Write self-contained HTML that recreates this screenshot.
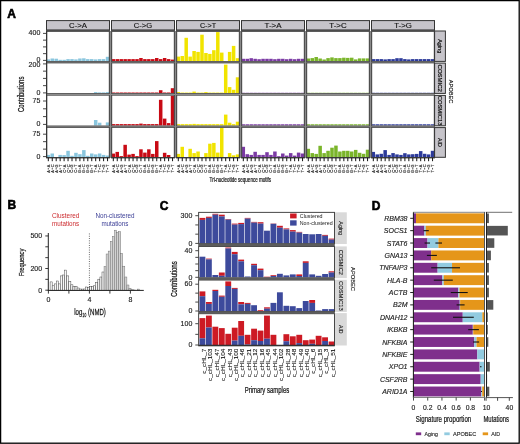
<!DOCTYPE html>
<html><head><meta charset="utf-8"><style>
html,body{margin:0;padding:0;background:#fff;}
svg{display:block;will-change:transform;}
text{font-family:"Liberation Sans", sans-serif;}
</style></head><body>
<svg width="520" height="444" viewBox="0 0 520 444">
<rect x="0" y="0" width="520" height="444" fill="#fff"/>
<text x="0" y="0" transform="translate(7.30 17.80)" font-size="12" fill="#000" text-anchor="start" font-weight="bold" font-style="normal" stroke="#000" stroke-width="0.6">A</text>
<rect x="46.50" y="20.60" width="63.00" height="9.60" fill="#c6c4ca" stroke="#333" stroke-width="1.0"/>
<rect x="46.00" y="29.60" width="64.00" height="2.20" fill="#3c3c3c" />
<text x="0" y="0" transform="translate(78.00 27.90) scale(1.2196 1)" font-size="6.4" fill="#111" text-anchor="middle" font-weight="normal" font-style="normal" stroke="#111" stroke-width="0.12">C-&gt;A</text>
<rect x="111.50" y="20.60" width="63.00" height="9.60" fill="#c6c4ca" stroke="#333" stroke-width="1.0"/>
<rect x="111.00" y="29.60" width="64.00" height="2.20" fill="#3c3c3c" />
<text x="0" y="0" transform="translate(143.00 27.90) scale(1.1895 1)" font-size="6.4" fill="#111" text-anchor="middle" font-weight="normal" font-style="normal" stroke="#111" stroke-width="0.12">C-&gt;G</text>
<rect x="176.50" y="20.60" width="63.00" height="9.60" fill="#c6c4ca" stroke="#333" stroke-width="1.0"/>
<rect x="176.00" y="29.60" width="64.00" height="2.20" fill="#3c3c3c" />
<text x="0" y="0" transform="translate(208.00 27.90) scale(1.1250 1)" font-size="6.4" fill="#111" text-anchor="middle" font-weight="normal" font-style="normal" stroke="#111" stroke-width="0.12">C-&gt;T</text>
<rect x="241.50" y="20.60" width="63.00" height="9.60" fill="#c6c4ca" stroke="#333" stroke-width="1.0"/>
<rect x="241.00" y="29.60" width="64.00" height="2.20" fill="#3c3c3c" />
<text x="0" y="0" transform="translate(273.00 27.90) scale(1.2414 1)" font-size="6.4" fill="#111" text-anchor="middle" font-weight="normal" font-style="normal" stroke="#111" stroke-width="0.12">T-&gt;A</text>
<rect x="306.50" y="20.60" width="63.00" height="9.60" fill="#c6c4ca" stroke="#333" stroke-width="1.0"/>
<rect x="306.00" y="29.60" width="64.00" height="2.20" fill="#3c3c3c" />
<text x="0" y="0" transform="translate(338.00 27.90) scale(1.2387 1)" font-size="6.4" fill="#111" text-anchor="middle" font-weight="normal" font-style="normal" stroke="#111" stroke-width="0.12">T-&gt;C</text>
<rect x="371.50" y="20.60" width="63.00" height="9.60" fill="#c6c4ca" stroke="#333" stroke-width="1.0"/>
<rect x="371.00" y="29.60" width="64.00" height="2.20" fill="#3c3c3c" />
<text x="0" y="0" transform="translate(403.00 27.90) scale(1.2220 1)" font-size="6.4" fill="#111" text-anchor="middle" font-weight="normal" font-style="normal" stroke="#111" stroke-width="0.12">T-&gt;G</text>
<rect x="110.00" y="31.00" width="1.00" height="127.00" fill="#8a8a8a" />
<rect x="175.00" y="31.00" width="1.00" height="127.00" fill="#8a8a8a" />
<rect x="240.00" y="31.00" width="1.00" height="127.00" fill="#8a8a8a" />
<rect x="305.00" y="31.00" width="1.00" height="127.00" fill="#8a8a8a" />
<rect x="370.00" y="31.00" width="1.00" height="127.00" fill="#8a8a8a" />
<rect x="46.55" y="59.40" width="3.50" height="1.70" fill="#8ac6de" />
<rect x="50.50" y="58.50" width="3.50" height="2.60" fill="#8ac6de" />
<rect x="54.45" y="58.70" width="3.50" height="2.40" fill="#8ac6de" />
<rect x="58.40" y="59.80" width="3.50" height="1.30" fill="#8ac6de" />
<rect x="62.35" y="59.80" width="3.50" height="1.30" fill="#8ac6de" />
<rect x="66.30" y="59.10" width="3.50" height="2.00" fill="#8ac6de" />
<rect x="70.25" y="59.10" width="3.50" height="2.00" fill="#8ac6de" />
<rect x="74.20" y="59.40" width="3.50" height="1.70" fill="#8ac6de" />
<rect x="78.15" y="58.50" width="3.50" height="2.60" fill="#8ac6de" />
<rect x="82.10" y="58.30" width="3.50" height="2.80" fill="#8ac6de" />
<rect x="86.05" y="59.10" width="3.50" height="2.00" fill="#8ac6de" />
<rect x="90.00" y="59.10" width="3.50" height="2.00" fill="#8ac6de" />
<rect x="93.95" y="59.40" width="3.50" height="1.70" fill="#8ac6de" />
<rect x="97.90" y="59.10" width="3.50" height="2.00" fill="#8ac6de" />
<rect x="101.85" y="59.10" width="3.50" height="2.00" fill="#8ac6de" />
<rect x="105.80" y="56.80" width="3.50" height="4.30" fill="#8ac6de" />
<rect x="111.55" y="59.10" width="3.50" height="2.00" fill="#c80a14" />
<rect x="115.50" y="59.10" width="3.50" height="2.00" fill="#c80a14" />
<rect x="119.45" y="59.10" width="3.50" height="2.00" fill="#c80a14" />
<rect x="123.40" y="59.10" width="3.50" height="2.00" fill="#c80a14" />
<rect x="127.35" y="59.10" width="3.50" height="2.00" fill="#c80a14" />
<rect x="131.30" y="59.10" width="3.50" height="2.00" fill="#c80a14" />
<rect x="135.25" y="59.10" width="3.50" height="2.00" fill="#c80a14" />
<rect x="139.20" y="58.00" width="3.50" height="3.10" fill="#c80a14" />
<rect x="143.15" y="59.10" width="3.50" height="2.00" fill="#c80a14" />
<rect x="147.10" y="59.10" width="3.50" height="2.00" fill="#c80a14" />
<rect x="151.05" y="59.10" width="3.50" height="2.00" fill="#c80a14" />
<rect x="155.00" y="58.00" width="3.50" height="3.10" fill="#c80a14" />
<rect x="158.95" y="59.10" width="3.50" height="2.00" fill="#c80a14" />
<rect x="162.90" y="58.00" width="3.50" height="3.10" fill="#c80a14" />
<rect x="166.85" y="59.10" width="3.50" height="2.00" fill="#c80a14" />
<rect x="170.80" y="59.60" width="3.50" height="1.50" fill="#c80a14" />
<rect x="176.55" y="56.60" width="3.50" height="4.50" fill="#f1e400" />
<rect x="180.50" y="56.00" width="3.50" height="5.10" fill="#f1e400" />
<rect x="184.45" y="37.80" width="3.50" height="23.30" fill="#f1e400" />
<rect x="188.40" y="56.60" width="3.50" height="4.50" fill="#f1e400" />
<rect x="192.35" y="51.00" width="3.50" height="10.10" fill="#f1e400" />
<rect x="196.30" y="51.90" width="3.50" height="9.20" fill="#f1e400" />
<rect x="200.25" y="34.70" width="3.50" height="26.40" fill="#f1e400" />
<rect x="204.20" y="53.00" width="3.50" height="8.10" fill="#f1e400" />
<rect x="208.15" y="53.90" width="3.50" height="7.20" fill="#f1e400" />
<rect x="212.10" y="50.20" width="3.50" height="10.90" fill="#f1e400" />
<rect x="216.05" y="32.10" width="3.50" height="29.00" fill="#f1e400" />
<rect x="220.00" y="52.60" width="3.50" height="8.50" fill="#f1e400" />
<rect x="227.90" y="51.90" width="3.50" height="9.20" fill="#f1e400" />
<rect x="231.85" y="45.90" width="3.50" height="15.20" fill="#f1e400" />
<rect x="235.80" y="58.20" width="3.50" height="2.90" fill="#f1e400" />
<rect x="241.55" y="58.80" width="3.50" height="2.30" fill="#7b3aa4" />
<rect x="245.50" y="58.80" width="3.50" height="2.30" fill="#7b3aa4" />
<rect x="249.45" y="58.20" width="3.50" height="2.90" fill="#7b3aa4" />
<rect x="253.40" y="58.80" width="3.50" height="2.30" fill="#7b3aa4" />
<rect x="257.35" y="59.20" width="3.50" height="1.90" fill="#7b3aa4" />
<rect x="261.30" y="58.80" width="3.50" height="2.30" fill="#7b3aa4" />
<rect x="265.25" y="58.80" width="3.50" height="2.30" fill="#7b3aa4" />
<rect x="269.20" y="58.80" width="3.50" height="2.30" fill="#7b3aa4" />
<rect x="273.15" y="59.20" width="3.50" height="1.90" fill="#7b3aa4" />
<rect x="277.10" y="58.80" width="3.50" height="2.30" fill="#7b3aa4" />
<rect x="281.05" y="58.80" width="3.50" height="2.30" fill="#7b3aa4" />
<rect x="285.00" y="59.20" width="3.50" height="1.90" fill="#7b3aa4" />
<rect x="288.95" y="58.80" width="3.50" height="2.30" fill="#7b3aa4" />
<rect x="292.90" y="59.20" width="3.50" height="1.90" fill="#7b3aa4" />
<rect x="296.85" y="58.80" width="3.50" height="2.30" fill="#7b3aa4" />
<rect x="300.80" y="58.80" width="3.50" height="2.30" fill="#7b3aa4" />
<rect x="306.55" y="58.50" width="3.50" height="2.60" fill="#7ab52a" />
<rect x="310.50" y="58.10" width="3.50" height="3.00" fill="#7ab52a" />
<rect x="314.45" y="57.00" width="3.50" height="4.10" fill="#7ab52a" />
<rect x="318.40" y="58.50" width="3.50" height="2.60" fill="#7ab52a" />
<rect x="322.35" y="59.50" width="3.50" height="1.60" fill="#7ab52a" />
<rect x="326.30" y="58.10" width="3.50" height="3.00" fill="#7ab52a" />
<rect x="330.25" y="57.40" width="3.50" height="3.70" fill="#7ab52a" />
<rect x="334.20" y="58.10" width="3.50" height="3.00" fill="#7ab52a" />
<rect x="338.15" y="58.10" width="3.50" height="3.00" fill="#7ab52a" />
<rect x="342.10" y="57.70" width="3.50" height="3.40" fill="#7ab52a" />
<rect x="346.05" y="57.90" width="3.50" height="3.20" fill="#7ab52a" />
<rect x="350.00" y="57.70" width="3.50" height="3.40" fill="#7ab52a" />
<rect x="353.95" y="59.40" width="3.50" height="1.70" fill="#7ab52a" />
<rect x="357.90" y="58.40" width="3.50" height="2.70" fill="#7ab52a" />
<rect x="361.85" y="58.40" width="3.50" height="2.70" fill="#7ab52a" />
<rect x="365.80" y="58.40" width="3.50" height="2.70" fill="#7ab52a" />
<rect x="371.55" y="59.10" width="3.50" height="2.00" fill="#2c3a9a" />
<rect x="375.50" y="59.10" width="3.50" height="2.00" fill="#2c3a9a" />
<rect x="379.45" y="59.10" width="3.50" height="2.00" fill="#2c3a9a" />
<rect x="383.40" y="59.40" width="3.50" height="1.70" fill="#2c3a9a" />
<rect x="387.35" y="59.10" width="3.50" height="2.00" fill="#2c3a9a" />
<rect x="391.30" y="59.10" width="3.50" height="2.00" fill="#2c3a9a" />
<rect x="395.25" y="58.20" width="3.50" height="2.90" fill="#2c3a9a" />
<rect x="399.20" y="58.20" width="3.50" height="2.90" fill="#2c3a9a" />
<rect x="403.15" y="59.10" width="3.50" height="2.00" fill="#2c3a9a" />
<rect x="407.10" y="59.40" width="3.50" height="1.70" fill="#2c3a9a" />
<rect x="411.05" y="59.10" width="3.50" height="2.00" fill="#2c3a9a" />
<rect x="415.00" y="59.10" width="3.50" height="2.00" fill="#2c3a9a" />
<rect x="418.95" y="59.10" width="3.50" height="2.00" fill="#2c3a9a" />
<rect x="422.90" y="59.10" width="3.50" height="2.00" fill="#2c3a9a" />
<rect x="426.85" y="59.10" width="3.50" height="2.00" fill="#2c3a9a" />
<rect x="430.80" y="59.10" width="3.50" height="2.00" fill="#2c3a9a" />
<rect x="93.95" y="92.10" width="3.50" height="1.00" fill="#8ac6de" />
<rect x="97.90" y="92.40" width="3.50" height="0.70" fill="#8ac6de" />
<rect x="101.85" y="92.40" width="3.50" height="0.70" fill="#8ac6de" />
<rect x="105.80" y="92.10" width="3.50" height="1.00" fill="#8ac6de" />
<rect x="111.55" y="92.50" width="3.50" height="0.60" fill="#c80a14" />
<rect x="115.50" y="92.50" width="3.50" height="0.60" fill="#c80a14" />
<rect x="119.45" y="92.50" width="3.50" height="0.60" fill="#c80a14" />
<rect x="123.40" y="92.50" width="3.50" height="0.60" fill="#c80a14" />
<rect x="127.35" y="92.50" width="3.50" height="0.60" fill="#c80a14" />
<rect x="131.30" y="92.50" width="3.50" height="0.60" fill="#c80a14" />
<rect x="135.25" y="92.50" width="3.50" height="0.60" fill="#c80a14" />
<rect x="139.20" y="92.50" width="3.50" height="0.60" fill="#c80a14" />
<rect x="143.15" y="92.50" width="3.50" height="0.60" fill="#c80a14" />
<rect x="147.10" y="92.50" width="3.50" height="0.60" fill="#c80a14" />
<rect x="151.05" y="92.50" width="3.50" height="0.60" fill="#c80a14" />
<rect x="155.00" y="92.50" width="3.50" height="0.60" fill="#c80a14" />
<rect x="158.95" y="90.20" width="3.50" height="2.90" fill="#c80a14" />
<rect x="162.90" y="92.50" width="3.50" height="0.60" fill="#c80a14" />
<rect x="166.85" y="92.50" width="3.50" height="0.60" fill="#c80a14" />
<rect x="170.80" y="88.20" width="3.50" height="4.90" fill="#c80a14" />
<rect x="176.55" y="92.10" width="3.50" height="1.00" fill="#f1e400" />
<rect x="180.50" y="92.60" width="3.50" height="0.50" fill="#f1e400" />
<rect x="184.45" y="92.60" width="3.50" height="0.50" fill="#f1e400" />
<rect x="188.40" y="92.60" width="3.50" height="0.50" fill="#f1e400" />
<rect x="192.35" y="91.60" width="3.50" height="1.50" fill="#f1e400" />
<rect x="196.30" y="92.60" width="3.50" height="0.50" fill="#f1e400" />
<rect x="200.25" y="92.60" width="3.50" height="0.50" fill="#f1e400" />
<rect x="204.20" y="92.10" width="3.50" height="1.00" fill="#f1e400" />
<rect x="208.15" y="92.60" width="3.50" height="0.50" fill="#f1e400" />
<rect x="212.10" y="92.60" width="3.50" height="0.50" fill="#f1e400" />
<rect x="216.05" y="92.60" width="3.50" height="0.50" fill="#f1e400" />
<rect x="220.00" y="92.60" width="3.50" height="0.50" fill="#f1e400" />
<rect x="223.95" y="64.60" width="3.50" height="28.50" fill="#f1e400" />
<rect x="227.90" y="87.10" width="3.50" height="6.00" fill="#f1e400" />
<rect x="231.85" y="89.80" width="3.50" height="3.30" fill="#f1e400" />
<rect x="235.80" y="77.30" width="3.50" height="15.80" fill="#f1e400" />
<rect x="241.55" y="92.78" width="3.50" height="0.32" fill="#7b3aa4" />
<rect x="245.50" y="92.78" width="3.50" height="0.32" fill="#7b3aa4" />
<rect x="249.45" y="92.78" width="3.50" height="0.32" fill="#7b3aa4" />
<rect x="253.40" y="92.78" width="3.50" height="0.32" fill="#7b3aa4" />
<rect x="257.35" y="92.78" width="3.50" height="0.32" fill="#7b3aa4" />
<rect x="261.30" y="92.78" width="3.50" height="0.32" fill="#7b3aa4" />
<rect x="265.25" y="92.78" width="3.50" height="0.32" fill="#7b3aa4" />
<rect x="269.20" y="92.78" width="3.50" height="0.32" fill="#7b3aa4" />
<rect x="273.15" y="92.78" width="3.50" height="0.32" fill="#7b3aa4" />
<rect x="277.10" y="92.78" width="3.50" height="0.32" fill="#7b3aa4" />
<rect x="281.05" y="92.78" width="3.50" height="0.32" fill="#7b3aa4" />
<rect x="285.00" y="92.78" width="3.50" height="0.32" fill="#7b3aa4" />
<rect x="288.95" y="92.78" width="3.50" height="0.32" fill="#7b3aa4" />
<rect x="292.90" y="92.78" width="3.50" height="0.32" fill="#7b3aa4" />
<rect x="296.85" y="92.78" width="3.50" height="0.32" fill="#7b3aa4" />
<rect x="300.80" y="92.78" width="3.50" height="0.32" fill="#7b3aa4" />
<rect x="306.55" y="92.78" width="3.50" height="0.32" fill="#7ab52a" />
<rect x="310.50" y="92.78" width="3.50" height="0.32" fill="#7ab52a" />
<rect x="314.45" y="92.78" width="3.50" height="0.32" fill="#7ab52a" />
<rect x="318.40" y="92.78" width="3.50" height="0.32" fill="#7ab52a" />
<rect x="322.35" y="92.78" width="3.50" height="0.32" fill="#7ab52a" />
<rect x="326.30" y="92.78" width="3.50" height="0.32" fill="#7ab52a" />
<rect x="330.25" y="92.78" width="3.50" height="0.32" fill="#7ab52a" />
<rect x="334.20" y="92.78" width="3.50" height="0.32" fill="#7ab52a" />
<rect x="338.15" y="92.78" width="3.50" height="0.32" fill="#7ab52a" />
<rect x="342.10" y="92.78" width="3.50" height="0.32" fill="#7ab52a" />
<rect x="346.05" y="92.78" width="3.50" height="0.32" fill="#7ab52a" />
<rect x="350.00" y="92.78" width="3.50" height="0.32" fill="#7ab52a" />
<rect x="353.95" y="92.78" width="3.50" height="0.32" fill="#7ab52a" />
<rect x="357.90" y="92.78" width="3.50" height="0.32" fill="#7ab52a" />
<rect x="361.85" y="92.78" width="3.50" height="0.32" fill="#7ab52a" />
<rect x="365.80" y="92.78" width="3.50" height="0.32" fill="#7ab52a" />
<rect x="371.55" y="92.78" width="3.50" height="0.32" fill="#2c3a9a" />
<rect x="375.50" y="92.78" width="3.50" height="0.32" fill="#2c3a9a" />
<rect x="379.45" y="92.78" width="3.50" height="0.32" fill="#2c3a9a" />
<rect x="383.40" y="92.78" width="3.50" height="0.32" fill="#2c3a9a" />
<rect x="387.35" y="92.78" width="3.50" height="0.32" fill="#2c3a9a" />
<rect x="391.30" y="92.78" width="3.50" height="0.32" fill="#2c3a9a" />
<rect x="395.25" y="92.78" width="3.50" height="0.32" fill="#2c3a9a" />
<rect x="399.20" y="92.78" width="3.50" height="0.32" fill="#2c3a9a" />
<rect x="403.15" y="92.78" width="3.50" height="0.32" fill="#2c3a9a" />
<rect x="407.10" y="92.78" width="3.50" height="0.32" fill="#2c3a9a" />
<rect x="411.05" y="92.78" width="3.50" height="0.32" fill="#2c3a9a" />
<rect x="415.00" y="92.78" width="3.50" height="0.32" fill="#2c3a9a" />
<rect x="418.95" y="92.78" width="3.50" height="0.32" fill="#2c3a9a" />
<rect x="422.90" y="92.78" width="3.50" height="0.32" fill="#2c3a9a" />
<rect x="426.85" y="92.78" width="3.50" height="0.32" fill="#2c3a9a" />
<rect x="430.80" y="92.78" width="3.50" height="0.32" fill="#2c3a9a" />
<rect x="93.95" y="120.00" width="3.50" height="5.50" fill="#8ac6de" />
<rect x="97.90" y="122.70" width="3.50" height="2.80" fill="#8ac6de" />
<rect x="105.80" y="122.40" width="3.50" height="3.10" fill="#8ac6de" />
<rect x="111.55" y="124.10" width="3.50" height="1.40" fill="#c80a14" />
<rect x="115.50" y="124.10" width="3.50" height="1.40" fill="#c80a14" />
<rect x="119.45" y="124.10" width="3.50" height="1.40" fill="#c80a14" />
<rect x="123.40" y="124.10" width="3.50" height="1.40" fill="#c80a14" />
<rect x="127.35" y="124.10" width="3.50" height="1.40" fill="#c80a14" />
<rect x="131.30" y="124.10" width="3.50" height="1.40" fill="#c80a14" />
<rect x="135.25" y="124.10" width="3.50" height="1.40" fill="#c80a14" />
<rect x="139.20" y="123.60" width="3.50" height="1.90" fill="#c80a14" />
<rect x="143.15" y="124.10" width="3.50" height="1.40" fill="#c80a14" />
<rect x="147.10" y="124.10" width="3.50" height="1.40" fill="#c80a14" />
<rect x="151.05" y="124.10" width="3.50" height="1.40" fill="#c80a14" />
<rect x="155.00" y="124.10" width="3.50" height="1.40" fill="#c80a14" />
<rect x="158.95" y="99.80" width="3.50" height="25.70" fill="#c80a14" />
<rect x="162.90" y="118.60" width="3.50" height="6.90" fill="#c80a14" />
<rect x="166.85" y="123.10" width="3.50" height="2.40" fill="#c80a14" />
<rect x="170.80" y="95.70" width="3.50" height="29.80" fill="#c80a14" />
<rect x="176.55" y="124.15" width="3.50" height="1.35" fill="#f1e400" />
<rect x="180.50" y="124.15" width="3.50" height="1.35" fill="#f1e400" />
<rect x="184.45" y="124.15" width="3.50" height="1.35" fill="#f1e400" />
<rect x="188.40" y="124.15" width="3.50" height="1.35" fill="#f1e400" />
<rect x="192.35" y="123.90" width="3.50" height="1.60" fill="#f1e400" />
<rect x="196.30" y="124.15" width="3.50" height="1.35" fill="#f1e400" />
<rect x="200.25" y="124.15" width="3.50" height="1.35" fill="#f1e400" />
<rect x="204.20" y="124.15" width="3.50" height="1.35" fill="#f1e400" />
<rect x="208.15" y="124.15" width="3.50" height="1.35" fill="#f1e400" />
<rect x="212.10" y="124.15" width="3.50" height="1.35" fill="#f1e400" />
<rect x="216.05" y="124.15" width="3.50" height="1.35" fill="#f1e400" />
<rect x="220.00" y="124.15" width="3.50" height="1.35" fill="#f1e400" />
<rect x="223.95" y="114.60" width="3.50" height="10.90" fill="#f1e400" />
<rect x="227.90" y="122.70" width="3.50" height="2.80" fill="#f1e400" />
<rect x="231.85" y="124.15" width="3.50" height="1.35" fill="#f1e400" />
<rect x="235.80" y="121.70" width="3.50" height="3.80" fill="#f1e400" />
<rect x="241.55" y="124.28" width="3.50" height="1.22" fill="#7b3aa4" />
<rect x="245.50" y="124.28" width="3.50" height="1.22" fill="#7b3aa4" />
<rect x="249.45" y="124.28" width="3.50" height="1.22" fill="#7b3aa4" />
<rect x="253.40" y="124.28" width="3.50" height="1.22" fill="#7b3aa4" />
<rect x="257.35" y="124.28" width="3.50" height="1.22" fill="#7b3aa4" />
<rect x="261.30" y="124.28" width="3.50" height="1.22" fill="#7b3aa4" />
<rect x="265.25" y="124.28" width="3.50" height="1.22" fill="#7b3aa4" />
<rect x="269.20" y="124.28" width="3.50" height="1.22" fill="#7b3aa4" />
<rect x="273.15" y="124.28" width="3.50" height="1.22" fill="#7b3aa4" />
<rect x="277.10" y="124.28" width="3.50" height="1.22" fill="#7b3aa4" />
<rect x="281.05" y="124.28" width="3.50" height="1.22" fill="#7b3aa4" />
<rect x="285.00" y="124.28" width="3.50" height="1.22" fill="#7b3aa4" />
<rect x="288.95" y="124.28" width="3.50" height="1.22" fill="#7b3aa4" />
<rect x="292.90" y="124.28" width="3.50" height="1.22" fill="#7b3aa4" />
<rect x="296.85" y="124.28" width="3.50" height="1.22" fill="#7b3aa4" />
<rect x="300.80" y="124.28" width="3.50" height="1.22" fill="#7b3aa4" />
<rect x="306.55" y="124.28" width="3.50" height="1.22" fill="#7ab52a" />
<rect x="310.50" y="124.28" width="3.50" height="1.22" fill="#7ab52a" />
<rect x="314.45" y="124.28" width="3.50" height="1.22" fill="#7ab52a" />
<rect x="318.40" y="124.28" width="3.50" height="1.22" fill="#7ab52a" />
<rect x="322.35" y="124.28" width="3.50" height="1.22" fill="#7ab52a" />
<rect x="326.30" y="124.28" width="3.50" height="1.22" fill="#7ab52a" />
<rect x="330.25" y="124.28" width="3.50" height="1.22" fill="#7ab52a" />
<rect x="334.20" y="124.28" width="3.50" height="1.22" fill="#7ab52a" />
<rect x="338.15" y="124.28" width="3.50" height="1.22" fill="#7ab52a" />
<rect x="342.10" y="124.28" width="3.50" height="1.22" fill="#7ab52a" />
<rect x="346.05" y="124.28" width="3.50" height="1.22" fill="#7ab52a" />
<rect x="350.00" y="124.28" width="3.50" height="1.22" fill="#7ab52a" />
<rect x="353.95" y="124.28" width="3.50" height="1.22" fill="#7ab52a" />
<rect x="357.90" y="124.28" width="3.50" height="1.22" fill="#7ab52a" />
<rect x="361.85" y="124.28" width="3.50" height="1.22" fill="#7ab52a" />
<rect x="365.80" y="124.28" width="3.50" height="1.22" fill="#7ab52a" />
<rect x="371.55" y="124.28" width="3.50" height="1.22" fill="#2c3a9a" />
<rect x="375.50" y="124.28" width="3.50" height="1.22" fill="#2c3a9a" />
<rect x="379.45" y="124.28" width="3.50" height="1.22" fill="#2c3a9a" />
<rect x="383.40" y="124.28" width="3.50" height="1.22" fill="#2c3a9a" />
<rect x="387.35" y="124.28" width="3.50" height="1.22" fill="#2c3a9a" />
<rect x="391.30" y="124.28" width="3.50" height="1.22" fill="#2c3a9a" />
<rect x="395.25" y="124.28" width="3.50" height="1.22" fill="#2c3a9a" />
<rect x="399.20" y="124.28" width="3.50" height="1.22" fill="#2c3a9a" />
<rect x="403.15" y="124.28" width="3.50" height="1.22" fill="#2c3a9a" />
<rect x="407.10" y="124.28" width="3.50" height="1.22" fill="#2c3a9a" />
<rect x="411.05" y="124.28" width="3.50" height="1.22" fill="#2c3a9a" />
<rect x="415.00" y="124.28" width="3.50" height="1.22" fill="#2c3a9a" />
<rect x="418.95" y="124.28" width="3.50" height="1.22" fill="#2c3a9a" />
<rect x="422.90" y="124.28" width="3.50" height="1.22" fill="#2c3a9a" />
<rect x="426.85" y="124.28" width="3.50" height="1.22" fill="#2c3a9a" />
<rect x="430.80" y="124.28" width="3.50" height="1.22" fill="#2c3a9a" />
<rect x="46.55" y="154.90" width="3.50" height="2.10" fill="#8ac6de" />
<rect x="50.50" y="153.50" width="3.50" height="3.50" fill="#8ac6de" />
<rect x="58.40" y="154.90" width="3.50" height="2.10" fill="#8ac6de" />
<rect x="62.35" y="155.10" width="3.50" height="1.90" fill="#8ac6de" />
<rect x="66.30" y="150.80" width="3.50" height="6.20" fill="#8ac6de" />
<rect x="70.25" y="155.80" width="3.50" height="1.20" fill="#8ac6de" />
<rect x="74.20" y="152.80" width="3.50" height="4.20" fill="#8ac6de" />
<rect x="78.15" y="154.20" width="3.50" height="2.80" fill="#8ac6de" />
<rect x="82.10" y="150.10" width="3.50" height="6.90" fill="#8ac6de" />
<rect x="86.05" y="155.80" width="3.50" height="1.20" fill="#8ac6de" />
<rect x="90.00" y="153.50" width="3.50" height="3.50" fill="#8ac6de" />
<rect x="93.95" y="154.40" width="3.50" height="2.60" fill="#8ac6de" />
<rect x="97.90" y="153.50" width="3.50" height="3.50" fill="#8ac6de" />
<rect x="101.85" y="154.90" width="3.50" height="2.10" fill="#8ac6de" />
<rect x="105.80" y="155.50" width="3.50" height="1.50" fill="#8ac6de" />
<rect x="111.55" y="153.60" width="3.50" height="3.40" fill="#c80a14" />
<rect x="115.50" y="151.90" width="3.50" height="5.10" fill="#c80a14" />
<rect x="119.45" y="156.10" width="3.50" height="0.90" fill="#c80a14" />
<rect x="123.40" y="144.80" width="3.50" height="12.20" fill="#c80a14" />
<rect x="127.35" y="154.60" width="3.50" height="2.40" fill="#c80a14" />
<rect x="131.30" y="153.90" width="3.50" height="3.10" fill="#c80a14" />
<rect x="135.25" y="156.10" width="3.50" height="0.90" fill="#c80a14" />
<rect x="139.20" y="149.30" width="3.50" height="7.70" fill="#c80a14" />
<rect x="143.15" y="152.60" width="3.50" height="4.40" fill="#c80a14" />
<rect x="147.10" y="149.30" width="3.50" height="7.70" fill="#c80a14" />
<rect x="151.05" y="153.90" width="3.50" height="3.10" fill="#c80a14" />
<rect x="155.00" y="141.10" width="3.50" height="15.90" fill="#c80a14" />
<rect x="162.90" y="152.80" width="3.50" height="4.20" fill="#c80a14" />
<rect x="166.85" y="155.00" width="3.50" height="2.00" fill="#c80a14" />
<rect x="176.55" y="153.90" width="3.50" height="3.10" fill="#f1e400" />
<rect x="180.50" y="146.80" width="3.50" height="10.20" fill="#f1e400" />
<rect x="188.40" y="148.80" width="3.50" height="8.20" fill="#f1e400" />
<rect x="192.35" y="153.10" width="3.50" height="3.90" fill="#f1e400" />
<rect x="196.30" y="151.50" width="3.50" height="5.50" fill="#f1e400" />
<rect x="204.20" y="153.10" width="3.50" height="3.90" fill="#f1e400" />
<rect x="208.15" y="143.70" width="3.50" height="13.30" fill="#f1e400" />
<rect x="212.10" y="142.90" width="3.50" height="14.10" fill="#f1e400" />
<rect x="216.05" y="152.60" width="3.50" height="4.40" fill="#f1e400" />
<rect x="220.00" y="127.90" width="3.50" height="29.10" fill="#f1e400" />
<rect x="227.90" y="153.10" width="3.50" height="3.90" fill="#f1e400" />
<rect x="231.85" y="155.30" width="3.50" height="1.70" fill="#f1e400" />
<rect x="235.80" y="154.40" width="3.50" height="2.60" fill="#f1e400" />
<rect x="241.55" y="146.80" width="3.50" height="10.20" fill="#7b3aa4" />
<rect x="245.50" y="154.20" width="3.50" height="2.80" fill="#7b3aa4" />
<rect x="249.45" y="154.90" width="3.50" height="2.10" fill="#7b3aa4" />
<rect x="253.40" y="151.80" width="3.50" height="5.20" fill="#7b3aa4" />
<rect x="257.35" y="154.90" width="3.50" height="2.10" fill="#7b3aa4" />
<rect x="261.30" y="154.90" width="3.50" height="2.10" fill="#7b3aa4" />
<rect x="265.25" y="152.20" width="3.50" height="4.80" fill="#7b3aa4" />
<rect x="269.20" y="154.90" width="3.50" height="2.10" fill="#7b3aa4" />
<rect x="273.15" y="151.50" width="3.50" height="5.50" fill="#7b3aa4" />
<rect x="277.10" y="156.20" width="3.50" height="0.80" fill="#7b3aa4" />
<rect x="281.05" y="153.50" width="3.50" height="3.50" fill="#7b3aa4" />
<rect x="285.00" y="155.60" width="3.50" height="1.40" fill="#7b3aa4" />
<rect x="288.95" y="153.10" width="3.50" height="3.90" fill="#7b3aa4" />
<rect x="292.90" y="155.60" width="3.50" height="1.40" fill="#7b3aa4" />
<rect x="296.85" y="152.60" width="3.50" height="4.40" fill="#7b3aa4" />
<rect x="300.80" y="153.50" width="3.50" height="3.50" fill="#7b3aa4" />
<rect x="306.55" y="148.80" width="3.50" height="8.20" fill="#7ab52a" />
<rect x="310.50" y="153.10" width="3.50" height="3.90" fill="#7ab52a" />
<rect x="314.45" y="153.90" width="3.50" height="3.10" fill="#7ab52a" />
<rect x="318.40" y="145.80" width="3.50" height="11.20" fill="#7ab52a" />
<rect x="322.35" y="153.10" width="3.50" height="3.90" fill="#7ab52a" />
<rect x="326.30" y="150.80" width="3.50" height="6.20" fill="#7ab52a" />
<rect x="330.25" y="147.70" width="3.50" height="9.30" fill="#7ab52a" />
<rect x="334.20" y="145.60" width="3.50" height="11.40" fill="#7ab52a" />
<rect x="338.15" y="151.50" width="3.50" height="5.50" fill="#7ab52a" />
<rect x="342.10" y="150.80" width="3.50" height="6.20" fill="#7ab52a" />
<rect x="346.05" y="150.80" width="3.50" height="6.20" fill="#7ab52a" />
<rect x="350.00" y="151.50" width="3.50" height="5.50" fill="#7ab52a" />
<rect x="353.95" y="149.90" width="3.50" height="7.10" fill="#7ab52a" />
<rect x="357.90" y="152.80" width="3.50" height="4.20" fill="#7ab52a" />
<rect x="361.85" y="153.80" width="3.50" height="3.20" fill="#7ab52a" />
<rect x="365.80" y="149.70" width="3.50" height="7.30" fill="#7ab52a" />
<rect x="371.55" y="151.90" width="3.50" height="5.10" fill="#2c3a9a" />
<rect x="375.50" y="154.40" width="3.50" height="2.60" fill="#2c3a9a" />
<rect x="379.45" y="153.80" width="3.50" height="3.20" fill="#2c3a9a" />
<rect x="383.40" y="150.10" width="3.50" height="6.90" fill="#2c3a9a" />
<rect x="387.35" y="154.90" width="3.50" height="2.10" fill="#2c3a9a" />
<rect x="391.30" y="153.10" width="3.50" height="3.90" fill="#2c3a9a" />
<rect x="395.25" y="154.40" width="3.50" height="2.60" fill="#2c3a9a" />
<rect x="399.20" y="154.90" width="3.50" height="2.10" fill="#2c3a9a" />
<rect x="403.15" y="153.20" width="3.50" height="3.80" fill="#2c3a9a" />
<rect x="407.10" y="154.40" width="3.50" height="2.60" fill="#2c3a9a" />
<rect x="411.05" y="154.20" width="3.50" height="2.80" fill="#2c3a9a" />
<rect x="415.00" y="153.90" width="3.50" height="3.10" fill="#2c3a9a" />
<rect x="418.95" y="151.10" width="3.50" height="5.90" fill="#2c3a9a" />
<rect x="422.90" y="153.80" width="3.50" height="3.20" fill="#2c3a9a" />
<rect x="426.85" y="154.40" width="3.50" height="2.60" fill="#2c3a9a" />
<rect x="430.80" y="150.80" width="3.50" height="6.20" fill="#2c3a9a" />
<rect x="46.60" y="30.70" width="62.80" height="31.00" fill="none" stroke="#4f4f4f" stroke-width="1.2"/>
<rect x="111.60" y="30.70" width="62.80" height="31.00" fill="none" stroke="#4f4f4f" stroke-width="1.2"/>
<rect x="176.60" y="30.70" width="62.80" height="31.00" fill="none" stroke="#4f4f4f" stroke-width="1.2"/>
<rect x="241.60" y="30.70" width="62.80" height="31.00" fill="none" stroke="#4f4f4f" stroke-width="1.2"/>
<rect x="306.60" y="30.70" width="62.80" height="31.00" fill="none" stroke="#4f4f4f" stroke-width="1.2"/>
<rect x="371.60" y="30.70" width="62.80" height="31.00" fill="none" stroke="#4f4f4f" stroke-width="1.2"/>
<rect x="46.60" y="62.80" width="62.80" height="30.90" fill="none" stroke="#4f4f4f" stroke-width="1.2"/>
<rect x="111.60" y="62.80" width="62.80" height="30.90" fill="none" stroke="#4f4f4f" stroke-width="1.2"/>
<rect x="176.60" y="62.80" width="62.80" height="30.90" fill="none" stroke="#4f4f4f" stroke-width="1.2"/>
<rect x="241.60" y="62.80" width="62.80" height="30.90" fill="none" stroke="#4f4f4f" stroke-width="1.2"/>
<rect x="306.60" y="62.80" width="62.80" height="30.90" fill="none" stroke="#4f4f4f" stroke-width="1.2"/>
<rect x="371.60" y="62.80" width="62.80" height="30.90" fill="none" stroke="#4f4f4f" stroke-width="1.2"/>
<rect x="46.60" y="95.10" width="62.80" height="31.00" fill="none" stroke="#4f4f4f" stroke-width="1.2"/>
<rect x="111.60" y="95.10" width="62.80" height="31.00" fill="none" stroke="#4f4f4f" stroke-width="1.2"/>
<rect x="176.60" y="95.10" width="62.80" height="31.00" fill="none" stroke="#4f4f4f" stroke-width="1.2"/>
<rect x="241.60" y="95.10" width="62.80" height="31.00" fill="none" stroke="#4f4f4f" stroke-width="1.2"/>
<rect x="306.60" y="95.10" width="62.80" height="31.00" fill="none" stroke="#4f4f4f" stroke-width="1.2"/>
<rect x="371.60" y="95.10" width="62.80" height="31.00" fill="none" stroke="#4f4f4f" stroke-width="1.2"/>
<rect x="46.60" y="127.30" width="62.80" height="30.30" fill="none" stroke="#4f4f4f" stroke-width="1.2"/>
<rect x="111.60" y="127.30" width="62.80" height="30.30" fill="none" stroke="#4f4f4f" stroke-width="1.2"/>
<rect x="176.60" y="127.30" width="62.80" height="30.30" fill="none" stroke="#4f4f4f" stroke-width="1.2"/>
<rect x="241.60" y="127.30" width="62.80" height="30.30" fill="none" stroke="#4f4f4f" stroke-width="1.2"/>
<rect x="306.60" y="127.30" width="62.80" height="30.30" fill="none" stroke="#4f4f4f" stroke-width="1.2"/>
<rect x="371.60" y="127.30" width="62.80" height="30.30" fill="none" stroke="#4f4f4f" stroke-width="1.2"/>
<line x1="46.00" y1="157.70" x2="110.00" y2="157.70" stroke="#333" stroke-width="1.1" />
<line x1="111.00" y1="157.70" x2="175.00" y2="157.70" stroke="#333" stroke-width="1.1" />
<line x1="176.00" y1="157.70" x2="240.00" y2="157.70" stroke="#333" stroke-width="1.1" />
<line x1="241.00" y1="157.70" x2="305.00" y2="157.70" stroke="#333" stroke-width="1.1" />
<line x1="306.00" y1="157.70" x2="370.00" y2="157.70" stroke="#333" stroke-width="1.1" />
<line x1="371.00" y1="157.70" x2="435.00" y2="157.70" stroke="#333" stroke-width="1.1" />
<line x1="46.60" y1="31.00" x2="46.60" y2="158.00" stroke="#333" stroke-width="1.1" />
<line x1="43.00" y1="60.40" x2="46.20" y2="60.40" stroke="#333" stroke-width="0.9" />
<text x="0" y="0" transform="translate(40.30 61.80)" font-size="7.0" fill="#222" text-anchor="end" font-weight="normal" font-style="normal" stroke="#222" stroke-width="0.15">0</text>
<line x1="43.00" y1="53.65" x2="46.20" y2="53.65" stroke="#333" stroke-width="0.9" />
<line x1="43.00" y1="46.90" x2="46.20" y2="46.90" stroke="#333" stroke-width="0.9" />
<line x1="43.00" y1="40.15" x2="46.20" y2="40.15" stroke="#333" stroke-width="0.9" />
<line x1="43.00" y1="33.40" x2="46.20" y2="33.40" stroke="#333" stroke-width="0.9" />
<text x="0" y="0" transform="translate(40.30 35.40)" font-size="7.0" fill="#222" text-anchor="end" font-weight="normal" font-style="normal" stroke="#222" stroke-width="0.15">400</text>
<line x1="43.00" y1="92.90" x2="46.20" y2="92.90" stroke="#333" stroke-width="0.9" />
<text x="0" y="0" transform="translate(40.30 94.90)" font-size="7.0" fill="#222" text-anchor="end" font-weight="normal" font-style="normal" stroke="#222" stroke-width="0.15">0</text>
<line x1="43.00" y1="85.65" x2="46.20" y2="85.65" stroke="#333" stroke-width="0.9" />
<line x1="43.00" y1="78.40" x2="46.20" y2="78.40" stroke="#333" stroke-width="0.9" />
<line x1="43.00" y1="71.15" x2="46.20" y2="71.15" stroke="#333" stroke-width="0.9" />
<line x1="43.00" y1="63.90" x2="46.20" y2="63.90" stroke="#333" stroke-width="0.9" />
<text x="0" y="0" transform="translate(40.30 66.50)" font-size="7.0" fill="#222" text-anchor="end" font-weight="normal" font-style="normal" stroke="#222" stroke-width="0.15">200</text>
<line x1="43.00" y1="124.40" x2="46.20" y2="124.40" stroke="#333" stroke-width="0.9" />
<text x="0" y="0" transform="translate(40.30 126.40)" font-size="7.0" fill="#222" text-anchor="end" font-weight="normal" font-style="normal" stroke="#222" stroke-width="0.15">0</text>
<line x1="43.00" y1="116.60" x2="46.20" y2="116.60" stroke="#333" stroke-width="0.9" />
<line x1="43.00" y1="108.80" x2="46.20" y2="108.80" stroke="#333" stroke-width="0.9" />
<line x1="43.00" y1="101.00" x2="46.20" y2="101.00" stroke="#333" stroke-width="0.9" />
<text x="0" y="0" transform="translate(40.30 103.00)" font-size="7.0" fill="#222" text-anchor="end" font-weight="normal" font-style="normal" stroke="#222" stroke-width="0.15">75</text>
<line x1="43.00" y1="156.60" x2="46.20" y2="156.60" stroke="#333" stroke-width="0.9" />
<text x="0" y="0" transform="translate(40.30 158.60)" font-size="7.0" fill="#222" text-anchor="end" font-weight="normal" font-style="normal" stroke="#222" stroke-width="0.15">0</text>
<line x1="43.00" y1="149.13" x2="46.20" y2="149.13" stroke="#333" stroke-width="0.9" />
<line x1="43.00" y1="141.67" x2="46.20" y2="141.67" stroke="#333" stroke-width="0.9" />
<line x1="43.00" y1="134.20" x2="46.20" y2="134.20" stroke="#333" stroke-width="0.9" />
<text x="0" y="0" transform="translate(40.30 136.20)" font-size="7.0" fill="#222" text-anchor="end" font-weight="normal" font-style="normal" stroke="#222" stroke-width="0.15">75</text>
<line x1="48.30" y1="157.90" x2="48.30" y2="161.20" stroke="#111" stroke-width="1.0" />
<text x="0" y="0" transform="translate(49.75 171.40) rotate(-90)" font-size="3.9" fill="#333" text-anchor="middle" font-weight="normal" font-style="normal" stroke="#333" stroke-width="0.2">A</text>
<text x="0" y="0" transform="translate(49.75 165.90) rotate(-90)" font-size="3.9" fill="#333" text-anchor="middle" font-weight="normal" font-style="normal" stroke="#333" stroke-width="0.2">A</text>
<line x1="48.30" y1="167.90" x2="48.30" y2="169.50" stroke="#444" stroke-width="0.9" />
<line x1="52.25" y1="157.90" x2="52.25" y2="161.20" stroke="#111" stroke-width="1.0" />
<text x="0" y="0" transform="translate(53.70 171.40) rotate(-90)" font-size="3.9" fill="#333" text-anchor="middle" font-weight="normal" font-style="normal" stroke="#333" stroke-width="0.2">A</text>
<text x="0" y="0" transform="translate(53.70 165.90) rotate(-90)" font-size="3.9" fill="#333" text-anchor="middle" font-weight="normal" font-style="normal" stroke="#333" stroke-width="0.2">C</text>
<line x1="52.25" y1="167.90" x2="52.25" y2="169.50" stroke="#444" stroke-width="0.9" />
<line x1="56.20" y1="157.90" x2="56.20" y2="161.20" stroke="#111" stroke-width="1.0" />
<text x="0" y="0" transform="translate(57.65 171.40) rotate(-90)" font-size="3.9" fill="#333" text-anchor="middle" font-weight="normal" font-style="normal" stroke="#333" stroke-width="0.2">A</text>
<text x="0" y="0" transform="translate(57.65 165.90) rotate(-90)" font-size="3.9" fill="#333" text-anchor="middle" font-weight="normal" font-style="normal" stroke="#333" stroke-width="0.2">G</text>
<line x1="56.20" y1="167.90" x2="56.20" y2="169.50" stroke="#444" stroke-width="0.9" />
<line x1="60.15" y1="157.90" x2="60.15" y2="161.20" stroke="#111" stroke-width="1.0" />
<text x="0" y="0" transform="translate(61.60 171.40) rotate(-90)" font-size="3.9" fill="#333" text-anchor="middle" font-weight="normal" font-style="normal" stroke="#333" stroke-width="0.2">A</text>
<text x="0" y="0" transform="translate(61.60 165.90) rotate(-90)" font-size="3.9" fill="#333" text-anchor="middle" font-weight="normal" font-style="normal" stroke="#333" stroke-width="0.2">T</text>
<line x1="60.15" y1="167.90" x2="60.15" y2="169.50" stroke="#444" stroke-width="0.9" />
<line x1="64.10" y1="157.90" x2="64.10" y2="161.20" stroke="#111" stroke-width="1.0" />
<text x="0" y="0" transform="translate(65.55 171.40) rotate(-90)" font-size="3.9" fill="#333" text-anchor="middle" font-weight="normal" font-style="normal" stroke="#333" stroke-width="0.2">C</text>
<text x="0" y="0" transform="translate(65.55 165.90) rotate(-90)" font-size="3.9" fill="#333" text-anchor="middle" font-weight="normal" font-style="normal" stroke="#333" stroke-width="0.2">A</text>
<line x1="64.10" y1="167.90" x2="64.10" y2="169.50" stroke="#444" stroke-width="0.9" />
<line x1="68.05" y1="157.90" x2="68.05" y2="161.20" stroke="#111" stroke-width="1.0" />
<text x="0" y="0" transform="translate(69.50 171.40) rotate(-90)" font-size="3.9" fill="#333" text-anchor="middle" font-weight="normal" font-style="normal" stroke="#333" stroke-width="0.2">C</text>
<text x="0" y="0" transform="translate(69.50 165.90) rotate(-90)" font-size="3.9" fill="#333" text-anchor="middle" font-weight="normal" font-style="normal" stroke="#333" stroke-width="0.2">C</text>
<line x1="68.05" y1="167.90" x2="68.05" y2="169.50" stroke="#444" stroke-width="0.9" />
<line x1="72.00" y1="157.90" x2="72.00" y2="161.20" stroke="#111" stroke-width="1.0" />
<text x="0" y="0" transform="translate(73.45 171.40) rotate(-90)" font-size="3.9" fill="#333" text-anchor="middle" font-weight="normal" font-style="normal" stroke="#333" stroke-width="0.2">C</text>
<text x="0" y="0" transform="translate(73.45 165.90) rotate(-90)" font-size="3.9" fill="#333" text-anchor="middle" font-weight="normal" font-style="normal" stroke="#333" stroke-width="0.2">G</text>
<line x1="72.00" y1="167.90" x2="72.00" y2="169.50" stroke="#444" stroke-width="0.9" />
<line x1="75.95" y1="157.90" x2="75.95" y2="161.20" stroke="#111" stroke-width="1.0" />
<text x="0" y="0" transform="translate(77.40 171.40) rotate(-90)" font-size="3.9" fill="#333" text-anchor="middle" font-weight="normal" font-style="normal" stroke="#333" stroke-width="0.2">C</text>
<text x="0" y="0" transform="translate(77.40 165.90) rotate(-90)" font-size="3.9" fill="#333" text-anchor="middle" font-weight="normal" font-style="normal" stroke="#333" stroke-width="0.2">T</text>
<line x1="75.95" y1="167.90" x2="75.95" y2="169.50" stroke="#444" stroke-width="0.9" />
<line x1="79.90" y1="157.90" x2="79.90" y2="161.20" stroke="#111" stroke-width="1.0" />
<text x="0" y="0" transform="translate(81.35 171.40) rotate(-90)" font-size="3.9" fill="#333" text-anchor="middle" font-weight="normal" font-style="normal" stroke="#333" stroke-width="0.2">G</text>
<text x="0" y="0" transform="translate(81.35 165.90) rotate(-90)" font-size="3.9" fill="#333" text-anchor="middle" font-weight="normal" font-style="normal" stroke="#333" stroke-width="0.2">A</text>
<line x1="79.90" y1="167.90" x2="79.90" y2="169.50" stroke="#444" stroke-width="0.9" />
<line x1="83.85" y1="157.90" x2="83.85" y2="161.20" stroke="#111" stroke-width="1.0" />
<text x="0" y="0" transform="translate(85.30 171.40) rotate(-90)" font-size="3.9" fill="#333" text-anchor="middle" font-weight="normal" font-style="normal" stroke="#333" stroke-width="0.2">G</text>
<text x="0" y="0" transform="translate(85.30 165.90) rotate(-90)" font-size="3.9" fill="#333" text-anchor="middle" font-weight="normal" font-style="normal" stroke="#333" stroke-width="0.2">C</text>
<line x1="83.85" y1="167.90" x2="83.85" y2="169.50" stroke="#444" stroke-width="0.9" />
<line x1="87.80" y1="157.90" x2="87.80" y2="161.20" stroke="#111" stroke-width="1.0" />
<text x="0" y="0" transform="translate(89.25 171.40) rotate(-90)" font-size="3.9" fill="#333" text-anchor="middle" font-weight="normal" font-style="normal" stroke="#333" stroke-width="0.2">G</text>
<text x="0" y="0" transform="translate(89.25 165.90) rotate(-90)" font-size="3.9" fill="#333" text-anchor="middle" font-weight="normal" font-style="normal" stroke="#333" stroke-width="0.2">G</text>
<line x1="87.80" y1="167.90" x2="87.80" y2="169.50" stroke="#444" stroke-width="0.9" />
<line x1="91.75" y1="157.90" x2="91.75" y2="161.20" stroke="#111" stroke-width="1.0" />
<text x="0" y="0" transform="translate(93.20 171.40) rotate(-90)" font-size="3.9" fill="#333" text-anchor="middle" font-weight="normal" font-style="normal" stroke="#333" stroke-width="0.2">G</text>
<text x="0" y="0" transform="translate(93.20 165.90) rotate(-90)" font-size="3.9" fill="#333" text-anchor="middle" font-weight="normal" font-style="normal" stroke="#333" stroke-width="0.2">T</text>
<line x1="91.75" y1="167.90" x2="91.75" y2="169.50" stroke="#444" stroke-width="0.9" />
<line x1="95.70" y1="157.90" x2="95.70" y2="161.20" stroke="#111" stroke-width="1.0" />
<text x="0" y="0" transform="translate(97.15 171.40) rotate(-90)" font-size="3.9" fill="#333" text-anchor="middle" font-weight="normal" font-style="normal" stroke="#333" stroke-width="0.2">T</text>
<text x="0" y="0" transform="translate(97.15 165.90) rotate(-90)" font-size="3.9" fill="#333" text-anchor="middle" font-weight="normal" font-style="normal" stroke="#333" stroke-width="0.2">A</text>
<line x1="95.70" y1="167.90" x2="95.70" y2="169.50" stroke="#444" stroke-width="0.9" />
<line x1="99.65" y1="157.90" x2="99.65" y2="161.20" stroke="#111" stroke-width="1.0" />
<text x="0" y="0" transform="translate(101.10 171.40) rotate(-90)" font-size="3.9" fill="#333" text-anchor="middle" font-weight="normal" font-style="normal" stroke="#333" stroke-width="0.2">T</text>
<text x="0" y="0" transform="translate(101.10 165.90) rotate(-90)" font-size="3.9" fill="#333" text-anchor="middle" font-weight="normal" font-style="normal" stroke="#333" stroke-width="0.2">C</text>
<line x1="99.65" y1="167.90" x2="99.65" y2="169.50" stroke="#444" stroke-width="0.9" />
<line x1="103.60" y1="157.90" x2="103.60" y2="161.20" stroke="#111" stroke-width="1.0" />
<text x="0" y="0" transform="translate(105.05 171.40) rotate(-90)" font-size="3.9" fill="#333" text-anchor="middle" font-weight="normal" font-style="normal" stroke="#333" stroke-width="0.2">T</text>
<text x="0" y="0" transform="translate(105.05 165.90) rotate(-90)" font-size="3.9" fill="#333" text-anchor="middle" font-weight="normal" font-style="normal" stroke="#333" stroke-width="0.2">G</text>
<line x1="103.60" y1="167.90" x2="103.60" y2="169.50" stroke="#444" stroke-width="0.9" />
<line x1="107.55" y1="157.90" x2="107.55" y2="161.20" stroke="#111" stroke-width="1.0" />
<text x="0" y="0" transform="translate(109.00 171.40) rotate(-90)" font-size="3.9" fill="#333" text-anchor="middle" font-weight="normal" font-style="normal" stroke="#333" stroke-width="0.2">T</text>
<text x="0" y="0" transform="translate(109.00 165.90) rotate(-90)" font-size="3.9" fill="#333" text-anchor="middle" font-weight="normal" font-style="normal" stroke="#333" stroke-width="0.2">T</text>
<line x1="107.55" y1="167.90" x2="107.55" y2="169.50" stroke="#444" stroke-width="0.9" />
<line x1="113.30" y1="157.90" x2="113.30" y2="161.20" stroke="#111" stroke-width="1.0" />
<text x="0" y="0" transform="translate(114.75 171.40) rotate(-90)" font-size="3.9" fill="#333" text-anchor="middle" font-weight="normal" font-style="normal" stroke="#333" stroke-width="0.2">A</text>
<text x="0" y="0" transform="translate(114.75 165.90) rotate(-90)" font-size="3.9" fill="#333" text-anchor="middle" font-weight="normal" font-style="normal" stroke="#333" stroke-width="0.2">A</text>
<line x1="113.30" y1="167.90" x2="113.30" y2="169.50" stroke="#444" stroke-width="0.9" />
<line x1="117.25" y1="157.90" x2="117.25" y2="161.20" stroke="#111" stroke-width="1.0" />
<text x="0" y="0" transform="translate(118.70 171.40) rotate(-90)" font-size="3.9" fill="#333" text-anchor="middle" font-weight="normal" font-style="normal" stroke="#333" stroke-width="0.2">A</text>
<text x="0" y="0" transform="translate(118.70 165.90) rotate(-90)" font-size="3.9" fill="#333" text-anchor="middle" font-weight="normal" font-style="normal" stroke="#333" stroke-width="0.2">C</text>
<line x1="117.25" y1="167.90" x2="117.25" y2="169.50" stroke="#444" stroke-width="0.9" />
<line x1="121.20" y1="157.90" x2="121.20" y2="161.20" stroke="#111" stroke-width="1.0" />
<text x="0" y="0" transform="translate(122.65 171.40) rotate(-90)" font-size="3.9" fill="#333" text-anchor="middle" font-weight="normal" font-style="normal" stroke="#333" stroke-width="0.2">A</text>
<text x="0" y="0" transform="translate(122.65 165.90) rotate(-90)" font-size="3.9" fill="#333" text-anchor="middle" font-weight="normal" font-style="normal" stroke="#333" stroke-width="0.2">G</text>
<line x1="121.20" y1="167.90" x2="121.20" y2="169.50" stroke="#444" stroke-width="0.9" />
<line x1="125.15" y1="157.90" x2="125.15" y2="161.20" stroke="#111" stroke-width="1.0" />
<text x="0" y="0" transform="translate(126.60 171.40) rotate(-90)" font-size="3.9" fill="#333" text-anchor="middle" font-weight="normal" font-style="normal" stroke="#333" stroke-width="0.2">A</text>
<text x="0" y="0" transform="translate(126.60 165.90) rotate(-90)" font-size="3.9" fill="#333" text-anchor="middle" font-weight="normal" font-style="normal" stroke="#333" stroke-width="0.2">T</text>
<line x1="125.15" y1="167.90" x2="125.15" y2="169.50" stroke="#444" stroke-width="0.9" />
<line x1="129.10" y1="157.90" x2="129.10" y2="161.20" stroke="#111" stroke-width="1.0" />
<text x="0" y="0" transform="translate(130.55 171.40) rotate(-90)" font-size="3.9" fill="#333" text-anchor="middle" font-weight="normal" font-style="normal" stroke="#333" stroke-width="0.2">C</text>
<text x="0" y="0" transform="translate(130.55 165.90) rotate(-90)" font-size="3.9" fill="#333" text-anchor="middle" font-weight="normal" font-style="normal" stroke="#333" stroke-width="0.2">A</text>
<line x1="129.10" y1="167.90" x2="129.10" y2="169.50" stroke="#444" stroke-width="0.9" />
<line x1="133.05" y1="157.90" x2="133.05" y2="161.20" stroke="#111" stroke-width="1.0" />
<text x="0" y="0" transform="translate(134.50 171.40) rotate(-90)" font-size="3.9" fill="#333" text-anchor="middle" font-weight="normal" font-style="normal" stroke="#333" stroke-width="0.2">C</text>
<text x="0" y="0" transform="translate(134.50 165.90) rotate(-90)" font-size="3.9" fill="#333" text-anchor="middle" font-weight="normal" font-style="normal" stroke="#333" stroke-width="0.2">C</text>
<line x1="133.05" y1="167.90" x2="133.05" y2="169.50" stroke="#444" stroke-width="0.9" />
<line x1="137.00" y1="157.90" x2="137.00" y2="161.20" stroke="#111" stroke-width="1.0" />
<text x="0" y="0" transform="translate(138.45 171.40) rotate(-90)" font-size="3.9" fill="#333" text-anchor="middle" font-weight="normal" font-style="normal" stroke="#333" stroke-width="0.2">C</text>
<text x="0" y="0" transform="translate(138.45 165.90) rotate(-90)" font-size="3.9" fill="#333" text-anchor="middle" font-weight="normal" font-style="normal" stroke="#333" stroke-width="0.2">G</text>
<line x1="137.00" y1="167.90" x2="137.00" y2="169.50" stroke="#444" stroke-width="0.9" />
<line x1="140.95" y1="157.90" x2="140.95" y2="161.20" stroke="#111" stroke-width="1.0" />
<text x="0" y="0" transform="translate(142.40 171.40) rotate(-90)" font-size="3.9" fill="#333" text-anchor="middle" font-weight="normal" font-style="normal" stroke="#333" stroke-width="0.2">C</text>
<text x="0" y="0" transform="translate(142.40 165.90) rotate(-90)" font-size="3.9" fill="#333" text-anchor="middle" font-weight="normal" font-style="normal" stroke="#333" stroke-width="0.2">T</text>
<line x1="140.95" y1="167.90" x2="140.95" y2="169.50" stroke="#444" stroke-width="0.9" />
<line x1="144.90" y1="157.90" x2="144.90" y2="161.20" stroke="#111" stroke-width="1.0" />
<text x="0" y="0" transform="translate(146.35 171.40) rotate(-90)" font-size="3.9" fill="#333" text-anchor="middle" font-weight="normal" font-style="normal" stroke="#333" stroke-width="0.2">G</text>
<text x="0" y="0" transform="translate(146.35 165.90) rotate(-90)" font-size="3.9" fill="#333" text-anchor="middle" font-weight="normal" font-style="normal" stroke="#333" stroke-width="0.2">A</text>
<line x1="144.90" y1="167.90" x2="144.90" y2="169.50" stroke="#444" stroke-width="0.9" />
<line x1="148.85" y1="157.90" x2="148.85" y2="161.20" stroke="#111" stroke-width="1.0" />
<text x="0" y="0" transform="translate(150.30 171.40) rotate(-90)" font-size="3.9" fill="#333" text-anchor="middle" font-weight="normal" font-style="normal" stroke="#333" stroke-width="0.2">G</text>
<text x="0" y="0" transform="translate(150.30 165.90) rotate(-90)" font-size="3.9" fill="#333" text-anchor="middle" font-weight="normal" font-style="normal" stroke="#333" stroke-width="0.2">C</text>
<line x1="148.85" y1="167.90" x2="148.85" y2="169.50" stroke="#444" stroke-width="0.9" />
<line x1="152.80" y1="157.90" x2="152.80" y2="161.20" stroke="#111" stroke-width="1.0" />
<text x="0" y="0" transform="translate(154.25 171.40) rotate(-90)" font-size="3.9" fill="#333" text-anchor="middle" font-weight="normal" font-style="normal" stroke="#333" stroke-width="0.2">G</text>
<text x="0" y="0" transform="translate(154.25 165.90) rotate(-90)" font-size="3.9" fill="#333" text-anchor="middle" font-weight="normal" font-style="normal" stroke="#333" stroke-width="0.2">G</text>
<line x1="152.80" y1="167.90" x2="152.80" y2="169.50" stroke="#444" stroke-width="0.9" />
<line x1="156.75" y1="157.90" x2="156.75" y2="161.20" stroke="#111" stroke-width="1.0" />
<text x="0" y="0" transform="translate(158.20 171.40) rotate(-90)" font-size="3.9" fill="#333" text-anchor="middle" font-weight="normal" font-style="normal" stroke="#333" stroke-width="0.2">G</text>
<text x="0" y="0" transform="translate(158.20 165.90) rotate(-90)" font-size="3.9" fill="#333" text-anchor="middle" font-weight="normal" font-style="normal" stroke="#333" stroke-width="0.2">T</text>
<line x1="156.75" y1="167.90" x2="156.75" y2="169.50" stroke="#444" stroke-width="0.9" />
<line x1="160.70" y1="157.90" x2="160.70" y2="161.20" stroke="#111" stroke-width="1.0" />
<text x="0" y="0" transform="translate(162.15 171.40) rotate(-90)" font-size="3.9" fill="#333" text-anchor="middle" font-weight="normal" font-style="normal" stroke="#333" stroke-width="0.2">T</text>
<text x="0" y="0" transform="translate(162.15 165.90) rotate(-90)" font-size="3.9" fill="#333" text-anchor="middle" font-weight="normal" font-style="normal" stroke="#333" stroke-width="0.2">A</text>
<line x1="160.70" y1="167.90" x2="160.70" y2="169.50" stroke="#444" stroke-width="0.9" />
<line x1="164.65" y1="157.90" x2="164.65" y2="161.20" stroke="#111" stroke-width="1.0" />
<text x="0" y="0" transform="translate(166.10 171.40) rotate(-90)" font-size="3.9" fill="#333" text-anchor="middle" font-weight="normal" font-style="normal" stroke="#333" stroke-width="0.2">T</text>
<text x="0" y="0" transform="translate(166.10 165.90) rotate(-90)" font-size="3.9" fill="#333" text-anchor="middle" font-weight="normal" font-style="normal" stroke="#333" stroke-width="0.2">C</text>
<line x1="164.65" y1="167.90" x2="164.65" y2="169.50" stroke="#444" stroke-width="0.9" />
<line x1="168.60" y1="157.90" x2="168.60" y2="161.20" stroke="#111" stroke-width="1.0" />
<text x="0" y="0" transform="translate(170.05 171.40) rotate(-90)" font-size="3.9" fill="#333" text-anchor="middle" font-weight="normal" font-style="normal" stroke="#333" stroke-width="0.2">T</text>
<text x="0" y="0" transform="translate(170.05 165.90) rotate(-90)" font-size="3.9" fill="#333" text-anchor="middle" font-weight="normal" font-style="normal" stroke="#333" stroke-width="0.2">G</text>
<line x1="168.60" y1="167.90" x2="168.60" y2="169.50" stroke="#444" stroke-width="0.9" />
<line x1="172.55" y1="157.90" x2="172.55" y2="161.20" stroke="#111" stroke-width="1.0" />
<text x="0" y="0" transform="translate(174.00 171.40) rotate(-90)" font-size="3.9" fill="#333" text-anchor="middle" font-weight="normal" font-style="normal" stroke="#333" stroke-width="0.2">T</text>
<text x="0" y="0" transform="translate(174.00 165.90) rotate(-90)" font-size="3.9" fill="#333" text-anchor="middle" font-weight="normal" font-style="normal" stroke="#333" stroke-width="0.2">T</text>
<line x1="172.55" y1="167.90" x2="172.55" y2="169.50" stroke="#444" stroke-width="0.9" />
<line x1="178.30" y1="157.90" x2="178.30" y2="161.20" stroke="#111" stroke-width="1.0" />
<text x="0" y="0" transform="translate(179.75 171.40) rotate(-90)" font-size="3.9" fill="#333" text-anchor="middle" font-weight="normal" font-style="normal" stroke="#333" stroke-width="0.2">A</text>
<text x="0" y="0" transform="translate(179.75 165.90) rotate(-90)" font-size="3.9" fill="#333" text-anchor="middle" font-weight="normal" font-style="normal" stroke="#333" stroke-width="0.2">A</text>
<line x1="178.30" y1="167.90" x2="178.30" y2="169.50" stroke="#444" stroke-width="0.9" />
<line x1="182.25" y1="157.90" x2="182.25" y2="161.20" stroke="#111" stroke-width="1.0" />
<text x="0" y="0" transform="translate(183.70 171.40) rotate(-90)" font-size="3.9" fill="#333" text-anchor="middle" font-weight="normal" font-style="normal" stroke="#333" stroke-width="0.2">A</text>
<text x="0" y="0" transform="translate(183.70 165.90) rotate(-90)" font-size="3.9" fill="#333" text-anchor="middle" font-weight="normal" font-style="normal" stroke="#333" stroke-width="0.2">C</text>
<line x1="182.25" y1="167.90" x2="182.25" y2="169.50" stroke="#444" stroke-width="0.9" />
<line x1="186.20" y1="157.90" x2="186.20" y2="161.20" stroke="#111" stroke-width="1.0" />
<text x="0" y="0" transform="translate(187.65 171.40) rotate(-90)" font-size="3.9" fill="#333" text-anchor="middle" font-weight="normal" font-style="normal" stroke="#333" stroke-width="0.2">A</text>
<text x="0" y="0" transform="translate(187.65 165.90) rotate(-90)" font-size="3.9" fill="#333" text-anchor="middle" font-weight="normal" font-style="normal" stroke="#333" stroke-width="0.2">G</text>
<line x1="186.20" y1="167.90" x2="186.20" y2="169.50" stroke="#444" stroke-width="0.9" />
<line x1="190.15" y1="157.90" x2="190.15" y2="161.20" stroke="#111" stroke-width="1.0" />
<text x="0" y="0" transform="translate(191.60 171.40) rotate(-90)" font-size="3.9" fill="#333" text-anchor="middle" font-weight="normal" font-style="normal" stroke="#333" stroke-width="0.2">A</text>
<text x="0" y="0" transform="translate(191.60 165.90) rotate(-90)" font-size="3.9" fill="#333" text-anchor="middle" font-weight="normal" font-style="normal" stroke="#333" stroke-width="0.2">T</text>
<line x1="190.15" y1="167.90" x2="190.15" y2="169.50" stroke="#444" stroke-width="0.9" />
<line x1="194.10" y1="157.90" x2="194.10" y2="161.20" stroke="#111" stroke-width="1.0" />
<text x="0" y="0" transform="translate(195.55 171.40) rotate(-90)" font-size="3.9" fill="#333" text-anchor="middle" font-weight="normal" font-style="normal" stroke="#333" stroke-width="0.2">C</text>
<text x="0" y="0" transform="translate(195.55 165.90) rotate(-90)" font-size="3.9" fill="#333" text-anchor="middle" font-weight="normal" font-style="normal" stroke="#333" stroke-width="0.2">A</text>
<line x1="194.10" y1="167.90" x2="194.10" y2="169.50" stroke="#444" stroke-width="0.9" />
<line x1="198.05" y1="157.90" x2="198.05" y2="161.20" stroke="#111" stroke-width="1.0" />
<text x="0" y="0" transform="translate(199.50 171.40) rotate(-90)" font-size="3.9" fill="#333" text-anchor="middle" font-weight="normal" font-style="normal" stroke="#333" stroke-width="0.2">C</text>
<text x="0" y="0" transform="translate(199.50 165.90) rotate(-90)" font-size="3.9" fill="#333" text-anchor="middle" font-weight="normal" font-style="normal" stroke="#333" stroke-width="0.2">C</text>
<line x1="198.05" y1="167.90" x2="198.05" y2="169.50" stroke="#444" stroke-width="0.9" />
<line x1="202.00" y1="157.90" x2="202.00" y2="161.20" stroke="#111" stroke-width="1.0" />
<text x="0" y="0" transform="translate(203.45 171.40) rotate(-90)" font-size="3.9" fill="#333" text-anchor="middle" font-weight="normal" font-style="normal" stroke="#333" stroke-width="0.2">C</text>
<text x="0" y="0" transform="translate(203.45 165.90) rotate(-90)" font-size="3.9" fill="#333" text-anchor="middle" font-weight="normal" font-style="normal" stroke="#333" stroke-width="0.2">G</text>
<line x1="202.00" y1="167.90" x2="202.00" y2="169.50" stroke="#444" stroke-width="0.9" />
<line x1="205.95" y1="157.90" x2="205.95" y2="161.20" stroke="#111" stroke-width="1.0" />
<text x="0" y="0" transform="translate(207.40 171.40) rotate(-90)" font-size="3.9" fill="#333" text-anchor="middle" font-weight="normal" font-style="normal" stroke="#333" stroke-width="0.2">C</text>
<text x="0" y="0" transform="translate(207.40 165.90) rotate(-90)" font-size="3.9" fill="#333" text-anchor="middle" font-weight="normal" font-style="normal" stroke="#333" stroke-width="0.2">T</text>
<line x1="205.95" y1="167.90" x2="205.95" y2="169.50" stroke="#444" stroke-width="0.9" />
<line x1="209.90" y1="157.90" x2="209.90" y2="161.20" stroke="#111" stroke-width="1.0" />
<text x="0" y="0" transform="translate(211.35 171.40) rotate(-90)" font-size="3.9" fill="#333" text-anchor="middle" font-weight="normal" font-style="normal" stroke="#333" stroke-width="0.2">G</text>
<text x="0" y="0" transform="translate(211.35 165.90) rotate(-90)" font-size="3.9" fill="#333" text-anchor="middle" font-weight="normal" font-style="normal" stroke="#333" stroke-width="0.2">A</text>
<line x1="209.90" y1="167.90" x2="209.90" y2="169.50" stroke="#444" stroke-width="0.9" />
<line x1="213.85" y1="157.90" x2="213.85" y2="161.20" stroke="#111" stroke-width="1.0" />
<text x="0" y="0" transform="translate(215.30 171.40) rotate(-90)" font-size="3.9" fill="#333" text-anchor="middle" font-weight="normal" font-style="normal" stroke="#333" stroke-width="0.2">G</text>
<text x="0" y="0" transform="translate(215.30 165.90) rotate(-90)" font-size="3.9" fill="#333" text-anchor="middle" font-weight="normal" font-style="normal" stroke="#333" stroke-width="0.2">C</text>
<line x1="213.85" y1="167.90" x2="213.85" y2="169.50" stroke="#444" stroke-width="0.9" />
<line x1="217.80" y1="157.90" x2="217.80" y2="161.20" stroke="#111" stroke-width="1.0" />
<text x="0" y="0" transform="translate(219.25 171.40) rotate(-90)" font-size="3.9" fill="#333" text-anchor="middle" font-weight="normal" font-style="normal" stroke="#333" stroke-width="0.2">G</text>
<text x="0" y="0" transform="translate(219.25 165.90) rotate(-90)" font-size="3.9" fill="#333" text-anchor="middle" font-weight="normal" font-style="normal" stroke="#333" stroke-width="0.2">G</text>
<line x1="217.80" y1="167.90" x2="217.80" y2="169.50" stroke="#444" stroke-width="0.9" />
<line x1="221.75" y1="157.90" x2="221.75" y2="161.20" stroke="#111" stroke-width="1.0" />
<text x="0" y="0" transform="translate(223.20 171.40) rotate(-90)" font-size="3.9" fill="#333" text-anchor="middle" font-weight="normal" font-style="normal" stroke="#333" stroke-width="0.2">G</text>
<text x="0" y="0" transform="translate(223.20 165.90) rotate(-90)" font-size="3.9" fill="#333" text-anchor="middle" font-weight="normal" font-style="normal" stroke="#333" stroke-width="0.2">T</text>
<line x1="221.75" y1="167.90" x2="221.75" y2="169.50" stroke="#444" stroke-width="0.9" />
<line x1="225.70" y1="157.90" x2="225.70" y2="161.20" stroke="#111" stroke-width="1.0" />
<text x="0" y="0" transform="translate(227.15 171.40) rotate(-90)" font-size="3.9" fill="#333" text-anchor="middle" font-weight="normal" font-style="normal" stroke="#333" stroke-width="0.2">T</text>
<text x="0" y="0" transform="translate(227.15 165.90) rotate(-90)" font-size="3.9" fill="#333" text-anchor="middle" font-weight="normal" font-style="normal" stroke="#333" stroke-width="0.2">A</text>
<line x1="225.70" y1="167.90" x2="225.70" y2="169.50" stroke="#444" stroke-width="0.9" />
<line x1="229.65" y1="157.90" x2="229.65" y2="161.20" stroke="#111" stroke-width="1.0" />
<text x="0" y="0" transform="translate(231.10 171.40) rotate(-90)" font-size="3.9" fill="#333" text-anchor="middle" font-weight="normal" font-style="normal" stroke="#333" stroke-width="0.2">T</text>
<text x="0" y="0" transform="translate(231.10 165.90) rotate(-90)" font-size="3.9" fill="#333" text-anchor="middle" font-weight="normal" font-style="normal" stroke="#333" stroke-width="0.2">C</text>
<line x1="229.65" y1="167.90" x2="229.65" y2="169.50" stroke="#444" stroke-width="0.9" />
<line x1="233.60" y1="157.90" x2="233.60" y2="161.20" stroke="#111" stroke-width="1.0" />
<text x="0" y="0" transform="translate(235.05 171.40) rotate(-90)" font-size="3.9" fill="#333" text-anchor="middle" font-weight="normal" font-style="normal" stroke="#333" stroke-width="0.2">T</text>
<text x="0" y="0" transform="translate(235.05 165.90) rotate(-90)" font-size="3.9" fill="#333" text-anchor="middle" font-weight="normal" font-style="normal" stroke="#333" stroke-width="0.2">G</text>
<line x1="233.60" y1="167.90" x2="233.60" y2="169.50" stroke="#444" stroke-width="0.9" />
<line x1="237.55" y1="157.90" x2="237.55" y2="161.20" stroke="#111" stroke-width="1.0" />
<text x="0" y="0" transform="translate(239.00 171.40) rotate(-90)" font-size="3.9" fill="#333" text-anchor="middle" font-weight="normal" font-style="normal" stroke="#333" stroke-width="0.2">T</text>
<text x="0" y="0" transform="translate(239.00 165.90) rotate(-90)" font-size="3.9" fill="#333" text-anchor="middle" font-weight="normal" font-style="normal" stroke="#333" stroke-width="0.2">T</text>
<line x1="237.55" y1="167.90" x2="237.55" y2="169.50" stroke="#444" stroke-width="0.9" />
<line x1="243.30" y1="157.90" x2="243.30" y2="161.20" stroke="#111" stroke-width="1.0" />
<text x="0" y="0" transform="translate(244.75 171.40) rotate(-90)" font-size="3.9" fill="#333" text-anchor="middle" font-weight="normal" font-style="normal" stroke="#333" stroke-width="0.2">A</text>
<text x="0" y="0" transform="translate(244.75 165.90) rotate(-90)" font-size="3.9" fill="#333" text-anchor="middle" font-weight="normal" font-style="normal" stroke="#333" stroke-width="0.2">A</text>
<line x1="243.30" y1="167.90" x2="243.30" y2="169.50" stroke="#444" stroke-width="0.9" />
<line x1="247.25" y1="157.90" x2="247.25" y2="161.20" stroke="#111" stroke-width="1.0" />
<text x="0" y="0" transform="translate(248.70 171.40) rotate(-90)" font-size="3.9" fill="#333" text-anchor="middle" font-weight="normal" font-style="normal" stroke="#333" stroke-width="0.2">A</text>
<text x="0" y="0" transform="translate(248.70 165.90) rotate(-90)" font-size="3.9" fill="#333" text-anchor="middle" font-weight="normal" font-style="normal" stroke="#333" stroke-width="0.2">C</text>
<line x1="247.25" y1="167.90" x2="247.25" y2="169.50" stroke="#444" stroke-width="0.9" />
<line x1="251.20" y1="157.90" x2="251.20" y2="161.20" stroke="#111" stroke-width="1.0" />
<text x="0" y="0" transform="translate(252.65 171.40) rotate(-90)" font-size="3.9" fill="#333" text-anchor="middle" font-weight="normal" font-style="normal" stroke="#333" stroke-width="0.2">A</text>
<text x="0" y="0" transform="translate(252.65 165.90) rotate(-90)" font-size="3.9" fill="#333" text-anchor="middle" font-weight="normal" font-style="normal" stroke="#333" stroke-width="0.2">G</text>
<line x1="251.20" y1="167.90" x2="251.20" y2="169.50" stroke="#444" stroke-width="0.9" />
<line x1="255.15" y1="157.90" x2="255.15" y2="161.20" stroke="#111" stroke-width="1.0" />
<text x="0" y="0" transform="translate(256.60 171.40) rotate(-90)" font-size="3.9" fill="#333" text-anchor="middle" font-weight="normal" font-style="normal" stroke="#333" stroke-width="0.2">A</text>
<text x="0" y="0" transform="translate(256.60 165.90) rotate(-90)" font-size="3.9" fill="#333" text-anchor="middle" font-weight="normal" font-style="normal" stroke="#333" stroke-width="0.2">T</text>
<line x1="255.15" y1="167.90" x2="255.15" y2="169.50" stroke="#444" stroke-width="0.9" />
<line x1="259.10" y1="157.90" x2="259.10" y2="161.20" stroke="#111" stroke-width="1.0" />
<text x="0" y="0" transform="translate(260.55 171.40) rotate(-90)" font-size="3.9" fill="#333" text-anchor="middle" font-weight="normal" font-style="normal" stroke="#333" stroke-width="0.2">C</text>
<text x="0" y="0" transform="translate(260.55 165.90) rotate(-90)" font-size="3.9" fill="#333" text-anchor="middle" font-weight="normal" font-style="normal" stroke="#333" stroke-width="0.2">A</text>
<line x1="259.10" y1="167.90" x2="259.10" y2="169.50" stroke="#444" stroke-width="0.9" />
<line x1="263.05" y1="157.90" x2="263.05" y2="161.20" stroke="#111" stroke-width="1.0" />
<text x="0" y="0" transform="translate(264.50 171.40) rotate(-90)" font-size="3.9" fill="#333" text-anchor="middle" font-weight="normal" font-style="normal" stroke="#333" stroke-width="0.2">C</text>
<text x="0" y="0" transform="translate(264.50 165.90) rotate(-90)" font-size="3.9" fill="#333" text-anchor="middle" font-weight="normal" font-style="normal" stroke="#333" stroke-width="0.2">C</text>
<line x1="263.05" y1="167.90" x2="263.05" y2="169.50" stroke="#444" stroke-width="0.9" />
<line x1="267.00" y1="157.90" x2="267.00" y2="161.20" stroke="#111" stroke-width="1.0" />
<text x="0" y="0" transform="translate(268.45 171.40) rotate(-90)" font-size="3.9" fill="#333" text-anchor="middle" font-weight="normal" font-style="normal" stroke="#333" stroke-width="0.2">C</text>
<text x="0" y="0" transform="translate(268.45 165.90) rotate(-90)" font-size="3.9" fill="#333" text-anchor="middle" font-weight="normal" font-style="normal" stroke="#333" stroke-width="0.2">G</text>
<line x1="267.00" y1="167.90" x2="267.00" y2="169.50" stroke="#444" stroke-width="0.9" />
<line x1="270.95" y1="157.90" x2="270.95" y2="161.20" stroke="#111" stroke-width="1.0" />
<text x="0" y="0" transform="translate(272.40 171.40) rotate(-90)" font-size="3.9" fill="#333" text-anchor="middle" font-weight="normal" font-style="normal" stroke="#333" stroke-width="0.2">C</text>
<text x="0" y="0" transform="translate(272.40 165.90) rotate(-90)" font-size="3.9" fill="#333" text-anchor="middle" font-weight="normal" font-style="normal" stroke="#333" stroke-width="0.2">T</text>
<line x1="270.95" y1="167.90" x2="270.95" y2="169.50" stroke="#444" stroke-width="0.9" />
<line x1="274.90" y1="157.90" x2="274.90" y2="161.20" stroke="#111" stroke-width="1.0" />
<text x="0" y="0" transform="translate(276.35 171.40) rotate(-90)" font-size="3.9" fill="#333" text-anchor="middle" font-weight="normal" font-style="normal" stroke="#333" stroke-width="0.2">G</text>
<text x="0" y="0" transform="translate(276.35 165.90) rotate(-90)" font-size="3.9" fill="#333" text-anchor="middle" font-weight="normal" font-style="normal" stroke="#333" stroke-width="0.2">A</text>
<line x1="274.90" y1="167.90" x2="274.90" y2="169.50" stroke="#444" stroke-width="0.9" />
<line x1="278.85" y1="157.90" x2="278.85" y2="161.20" stroke="#111" stroke-width="1.0" />
<text x="0" y="0" transform="translate(280.30 171.40) rotate(-90)" font-size="3.9" fill="#333" text-anchor="middle" font-weight="normal" font-style="normal" stroke="#333" stroke-width="0.2">G</text>
<text x="0" y="0" transform="translate(280.30 165.90) rotate(-90)" font-size="3.9" fill="#333" text-anchor="middle" font-weight="normal" font-style="normal" stroke="#333" stroke-width="0.2">C</text>
<line x1="278.85" y1="167.90" x2="278.85" y2="169.50" stroke="#444" stroke-width="0.9" />
<line x1="282.80" y1="157.90" x2="282.80" y2="161.20" stroke="#111" stroke-width="1.0" />
<text x="0" y="0" transform="translate(284.25 171.40) rotate(-90)" font-size="3.9" fill="#333" text-anchor="middle" font-weight="normal" font-style="normal" stroke="#333" stroke-width="0.2">G</text>
<text x="0" y="0" transform="translate(284.25 165.90) rotate(-90)" font-size="3.9" fill="#333" text-anchor="middle" font-weight="normal" font-style="normal" stroke="#333" stroke-width="0.2">G</text>
<line x1="282.80" y1="167.90" x2="282.80" y2="169.50" stroke="#444" stroke-width="0.9" />
<line x1="286.75" y1="157.90" x2="286.75" y2="161.20" stroke="#111" stroke-width="1.0" />
<text x="0" y="0" transform="translate(288.20 171.40) rotate(-90)" font-size="3.9" fill="#333" text-anchor="middle" font-weight="normal" font-style="normal" stroke="#333" stroke-width="0.2">G</text>
<text x="0" y="0" transform="translate(288.20 165.90) rotate(-90)" font-size="3.9" fill="#333" text-anchor="middle" font-weight="normal" font-style="normal" stroke="#333" stroke-width="0.2">T</text>
<line x1="286.75" y1="167.90" x2="286.75" y2="169.50" stroke="#444" stroke-width="0.9" />
<line x1="290.70" y1="157.90" x2="290.70" y2="161.20" stroke="#111" stroke-width="1.0" />
<text x="0" y="0" transform="translate(292.15 171.40) rotate(-90)" font-size="3.9" fill="#333" text-anchor="middle" font-weight="normal" font-style="normal" stroke="#333" stroke-width="0.2">T</text>
<text x="0" y="0" transform="translate(292.15 165.90) rotate(-90)" font-size="3.9" fill="#333" text-anchor="middle" font-weight="normal" font-style="normal" stroke="#333" stroke-width="0.2">A</text>
<line x1="290.70" y1="167.90" x2="290.70" y2="169.50" stroke="#444" stroke-width="0.9" />
<line x1="294.65" y1="157.90" x2="294.65" y2="161.20" stroke="#111" stroke-width="1.0" />
<text x="0" y="0" transform="translate(296.10 171.40) rotate(-90)" font-size="3.9" fill="#333" text-anchor="middle" font-weight="normal" font-style="normal" stroke="#333" stroke-width="0.2">T</text>
<text x="0" y="0" transform="translate(296.10 165.90) rotate(-90)" font-size="3.9" fill="#333" text-anchor="middle" font-weight="normal" font-style="normal" stroke="#333" stroke-width="0.2">C</text>
<line x1="294.65" y1="167.90" x2="294.65" y2="169.50" stroke="#444" stroke-width="0.9" />
<line x1="298.60" y1="157.90" x2="298.60" y2="161.20" stroke="#111" stroke-width="1.0" />
<text x="0" y="0" transform="translate(300.05 171.40) rotate(-90)" font-size="3.9" fill="#333" text-anchor="middle" font-weight="normal" font-style="normal" stroke="#333" stroke-width="0.2">T</text>
<text x="0" y="0" transform="translate(300.05 165.90) rotate(-90)" font-size="3.9" fill="#333" text-anchor="middle" font-weight="normal" font-style="normal" stroke="#333" stroke-width="0.2">G</text>
<line x1="298.60" y1="167.90" x2="298.60" y2="169.50" stroke="#444" stroke-width="0.9" />
<line x1="302.55" y1="157.90" x2="302.55" y2="161.20" stroke="#111" stroke-width="1.0" />
<text x="0" y="0" transform="translate(304.00 171.40) rotate(-90)" font-size="3.9" fill="#333" text-anchor="middle" font-weight="normal" font-style="normal" stroke="#333" stroke-width="0.2">T</text>
<text x="0" y="0" transform="translate(304.00 165.90) rotate(-90)" font-size="3.9" fill="#333" text-anchor="middle" font-weight="normal" font-style="normal" stroke="#333" stroke-width="0.2">T</text>
<line x1="302.55" y1="167.90" x2="302.55" y2="169.50" stroke="#444" stroke-width="0.9" />
<line x1="308.30" y1="157.90" x2="308.30" y2="161.20" stroke="#111" stroke-width="1.0" />
<text x="0" y="0" transform="translate(309.75 171.40) rotate(-90)" font-size="3.9" fill="#333" text-anchor="middle" font-weight="normal" font-style="normal" stroke="#333" stroke-width="0.2">A</text>
<text x="0" y="0" transform="translate(309.75 165.90) rotate(-90)" font-size="3.9" fill="#333" text-anchor="middle" font-weight="normal" font-style="normal" stroke="#333" stroke-width="0.2">A</text>
<line x1="308.30" y1="167.90" x2="308.30" y2="169.50" stroke="#444" stroke-width="0.9" />
<line x1="312.25" y1="157.90" x2="312.25" y2="161.20" stroke="#111" stroke-width="1.0" />
<text x="0" y="0" transform="translate(313.70 171.40) rotate(-90)" font-size="3.9" fill="#333" text-anchor="middle" font-weight="normal" font-style="normal" stroke="#333" stroke-width="0.2">A</text>
<text x="0" y="0" transform="translate(313.70 165.90) rotate(-90)" font-size="3.9" fill="#333" text-anchor="middle" font-weight="normal" font-style="normal" stroke="#333" stroke-width="0.2">C</text>
<line x1="312.25" y1="167.90" x2="312.25" y2="169.50" stroke="#444" stroke-width="0.9" />
<line x1="316.20" y1="157.90" x2="316.20" y2="161.20" stroke="#111" stroke-width="1.0" />
<text x="0" y="0" transform="translate(317.65 171.40) rotate(-90)" font-size="3.9" fill="#333" text-anchor="middle" font-weight="normal" font-style="normal" stroke="#333" stroke-width="0.2">A</text>
<text x="0" y="0" transform="translate(317.65 165.90) rotate(-90)" font-size="3.9" fill="#333" text-anchor="middle" font-weight="normal" font-style="normal" stroke="#333" stroke-width="0.2">G</text>
<line x1="316.20" y1="167.90" x2="316.20" y2="169.50" stroke="#444" stroke-width="0.9" />
<line x1="320.15" y1="157.90" x2="320.15" y2="161.20" stroke="#111" stroke-width="1.0" />
<text x="0" y="0" transform="translate(321.60 171.40) rotate(-90)" font-size="3.9" fill="#333" text-anchor="middle" font-weight="normal" font-style="normal" stroke="#333" stroke-width="0.2">A</text>
<text x="0" y="0" transform="translate(321.60 165.90) rotate(-90)" font-size="3.9" fill="#333" text-anchor="middle" font-weight="normal" font-style="normal" stroke="#333" stroke-width="0.2">T</text>
<line x1="320.15" y1="167.90" x2="320.15" y2="169.50" stroke="#444" stroke-width="0.9" />
<line x1="324.10" y1="157.90" x2="324.10" y2="161.20" stroke="#111" stroke-width="1.0" />
<text x="0" y="0" transform="translate(325.55 171.40) rotate(-90)" font-size="3.9" fill="#333" text-anchor="middle" font-weight="normal" font-style="normal" stroke="#333" stroke-width="0.2">C</text>
<text x="0" y="0" transform="translate(325.55 165.90) rotate(-90)" font-size="3.9" fill="#333" text-anchor="middle" font-weight="normal" font-style="normal" stroke="#333" stroke-width="0.2">A</text>
<line x1="324.10" y1="167.90" x2="324.10" y2="169.50" stroke="#444" stroke-width="0.9" />
<line x1="328.05" y1="157.90" x2="328.05" y2="161.20" stroke="#111" stroke-width="1.0" />
<text x="0" y="0" transform="translate(329.50 171.40) rotate(-90)" font-size="3.9" fill="#333" text-anchor="middle" font-weight="normal" font-style="normal" stroke="#333" stroke-width="0.2">C</text>
<text x="0" y="0" transform="translate(329.50 165.90) rotate(-90)" font-size="3.9" fill="#333" text-anchor="middle" font-weight="normal" font-style="normal" stroke="#333" stroke-width="0.2">C</text>
<line x1="328.05" y1="167.90" x2="328.05" y2="169.50" stroke="#444" stroke-width="0.9" />
<line x1="332.00" y1="157.90" x2="332.00" y2="161.20" stroke="#111" stroke-width="1.0" />
<text x="0" y="0" transform="translate(333.45 171.40) rotate(-90)" font-size="3.9" fill="#333" text-anchor="middle" font-weight="normal" font-style="normal" stroke="#333" stroke-width="0.2">C</text>
<text x="0" y="0" transform="translate(333.45 165.90) rotate(-90)" font-size="3.9" fill="#333" text-anchor="middle" font-weight="normal" font-style="normal" stroke="#333" stroke-width="0.2">G</text>
<line x1="332.00" y1="167.90" x2="332.00" y2="169.50" stroke="#444" stroke-width="0.9" />
<line x1="335.95" y1="157.90" x2="335.95" y2="161.20" stroke="#111" stroke-width="1.0" />
<text x="0" y="0" transform="translate(337.40 171.40) rotate(-90)" font-size="3.9" fill="#333" text-anchor="middle" font-weight="normal" font-style="normal" stroke="#333" stroke-width="0.2">C</text>
<text x="0" y="0" transform="translate(337.40 165.90) rotate(-90)" font-size="3.9" fill="#333" text-anchor="middle" font-weight="normal" font-style="normal" stroke="#333" stroke-width="0.2">T</text>
<line x1="335.95" y1="167.90" x2="335.95" y2="169.50" stroke="#444" stroke-width="0.9" />
<line x1="339.90" y1="157.90" x2="339.90" y2="161.20" stroke="#111" stroke-width="1.0" />
<text x="0" y="0" transform="translate(341.35 171.40) rotate(-90)" font-size="3.9" fill="#333" text-anchor="middle" font-weight="normal" font-style="normal" stroke="#333" stroke-width="0.2">G</text>
<text x="0" y="0" transform="translate(341.35 165.90) rotate(-90)" font-size="3.9" fill="#333" text-anchor="middle" font-weight="normal" font-style="normal" stroke="#333" stroke-width="0.2">A</text>
<line x1="339.90" y1="167.90" x2="339.90" y2="169.50" stroke="#444" stroke-width="0.9" />
<line x1="343.85" y1="157.90" x2="343.85" y2="161.20" stroke="#111" stroke-width="1.0" />
<text x="0" y="0" transform="translate(345.30 171.40) rotate(-90)" font-size="3.9" fill="#333" text-anchor="middle" font-weight="normal" font-style="normal" stroke="#333" stroke-width="0.2">G</text>
<text x="0" y="0" transform="translate(345.30 165.90) rotate(-90)" font-size="3.9" fill="#333" text-anchor="middle" font-weight="normal" font-style="normal" stroke="#333" stroke-width="0.2">C</text>
<line x1="343.85" y1="167.90" x2="343.85" y2="169.50" stroke="#444" stroke-width="0.9" />
<line x1="347.80" y1="157.90" x2="347.80" y2="161.20" stroke="#111" stroke-width="1.0" />
<text x="0" y="0" transform="translate(349.25 171.40) rotate(-90)" font-size="3.9" fill="#333" text-anchor="middle" font-weight="normal" font-style="normal" stroke="#333" stroke-width="0.2">G</text>
<text x="0" y="0" transform="translate(349.25 165.90) rotate(-90)" font-size="3.9" fill="#333" text-anchor="middle" font-weight="normal" font-style="normal" stroke="#333" stroke-width="0.2">G</text>
<line x1="347.80" y1="167.90" x2="347.80" y2="169.50" stroke="#444" stroke-width="0.9" />
<line x1="351.75" y1="157.90" x2="351.75" y2="161.20" stroke="#111" stroke-width="1.0" />
<text x="0" y="0" transform="translate(353.20 171.40) rotate(-90)" font-size="3.9" fill="#333" text-anchor="middle" font-weight="normal" font-style="normal" stroke="#333" stroke-width="0.2">G</text>
<text x="0" y="0" transform="translate(353.20 165.90) rotate(-90)" font-size="3.9" fill="#333" text-anchor="middle" font-weight="normal" font-style="normal" stroke="#333" stroke-width="0.2">T</text>
<line x1="351.75" y1="167.90" x2="351.75" y2="169.50" stroke="#444" stroke-width="0.9" />
<line x1="355.70" y1="157.90" x2="355.70" y2="161.20" stroke="#111" stroke-width="1.0" />
<text x="0" y="0" transform="translate(357.15 171.40) rotate(-90)" font-size="3.9" fill="#333" text-anchor="middle" font-weight="normal" font-style="normal" stroke="#333" stroke-width="0.2">T</text>
<text x="0" y="0" transform="translate(357.15 165.90) rotate(-90)" font-size="3.9" fill="#333" text-anchor="middle" font-weight="normal" font-style="normal" stroke="#333" stroke-width="0.2">A</text>
<line x1="355.70" y1="167.90" x2="355.70" y2="169.50" stroke="#444" stroke-width="0.9" />
<line x1="359.65" y1="157.90" x2="359.65" y2="161.20" stroke="#111" stroke-width="1.0" />
<text x="0" y="0" transform="translate(361.10 171.40) rotate(-90)" font-size="3.9" fill="#333" text-anchor="middle" font-weight="normal" font-style="normal" stroke="#333" stroke-width="0.2">T</text>
<text x="0" y="0" transform="translate(361.10 165.90) rotate(-90)" font-size="3.9" fill="#333" text-anchor="middle" font-weight="normal" font-style="normal" stroke="#333" stroke-width="0.2">C</text>
<line x1="359.65" y1="167.90" x2="359.65" y2="169.50" stroke="#444" stroke-width="0.9" />
<line x1="363.60" y1="157.90" x2="363.60" y2="161.20" stroke="#111" stroke-width="1.0" />
<text x="0" y="0" transform="translate(365.05 171.40) rotate(-90)" font-size="3.9" fill="#333" text-anchor="middle" font-weight="normal" font-style="normal" stroke="#333" stroke-width="0.2">T</text>
<text x="0" y="0" transform="translate(365.05 165.90) rotate(-90)" font-size="3.9" fill="#333" text-anchor="middle" font-weight="normal" font-style="normal" stroke="#333" stroke-width="0.2">G</text>
<line x1="363.60" y1="167.90" x2="363.60" y2="169.50" stroke="#444" stroke-width="0.9" />
<line x1="367.55" y1="157.90" x2="367.55" y2="161.20" stroke="#111" stroke-width="1.0" />
<text x="0" y="0" transform="translate(369.00 171.40) rotate(-90)" font-size="3.9" fill="#333" text-anchor="middle" font-weight="normal" font-style="normal" stroke="#333" stroke-width="0.2">T</text>
<text x="0" y="0" transform="translate(369.00 165.90) rotate(-90)" font-size="3.9" fill="#333" text-anchor="middle" font-weight="normal" font-style="normal" stroke="#333" stroke-width="0.2">T</text>
<line x1="367.55" y1="167.90" x2="367.55" y2="169.50" stroke="#444" stroke-width="0.9" />
<line x1="373.30" y1="157.90" x2="373.30" y2="161.20" stroke="#111" stroke-width="1.0" />
<text x="0" y="0" transform="translate(374.75 171.40) rotate(-90)" font-size="3.9" fill="#333" text-anchor="middle" font-weight="normal" font-style="normal" stroke="#333" stroke-width="0.2">A</text>
<text x="0" y="0" transform="translate(374.75 165.90) rotate(-90)" font-size="3.9" fill="#333" text-anchor="middle" font-weight="normal" font-style="normal" stroke="#333" stroke-width="0.2">A</text>
<line x1="373.30" y1="167.90" x2="373.30" y2="169.50" stroke="#444" stroke-width="0.9" />
<line x1="377.25" y1="157.90" x2="377.25" y2="161.20" stroke="#111" stroke-width="1.0" />
<text x="0" y="0" transform="translate(378.70 171.40) rotate(-90)" font-size="3.9" fill="#333" text-anchor="middle" font-weight="normal" font-style="normal" stroke="#333" stroke-width="0.2">A</text>
<text x="0" y="0" transform="translate(378.70 165.90) rotate(-90)" font-size="3.9" fill="#333" text-anchor="middle" font-weight="normal" font-style="normal" stroke="#333" stroke-width="0.2">C</text>
<line x1="377.25" y1="167.90" x2="377.25" y2="169.50" stroke="#444" stroke-width="0.9" />
<line x1="381.20" y1="157.90" x2="381.20" y2="161.20" stroke="#111" stroke-width="1.0" />
<text x="0" y="0" transform="translate(382.65 171.40) rotate(-90)" font-size="3.9" fill="#333" text-anchor="middle" font-weight="normal" font-style="normal" stroke="#333" stroke-width="0.2">A</text>
<text x="0" y="0" transform="translate(382.65 165.90) rotate(-90)" font-size="3.9" fill="#333" text-anchor="middle" font-weight="normal" font-style="normal" stroke="#333" stroke-width="0.2">G</text>
<line x1="381.20" y1="167.90" x2="381.20" y2="169.50" stroke="#444" stroke-width="0.9" />
<line x1="385.15" y1="157.90" x2="385.15" y2="161.20" stroke="#111" stroke-width="1.0" />
<text x="0" y="0" transform="translate(386.60 171.40) rotate(-90)" font-size="3.9" fill="#333" text-anchor="middle" font-weight="normal" font-style="normal" stroke="#333" stroke-width="0.2">A</text>
<text x="0" y="0" transform="translate(386.60 165.90) rotate(-90)" font-size="3.9" fill="#333" text-anchor="middle" font-weight="normal" font-style="normal" stroke="#333" stroke-width="0.2">T</text>
<line x1="385.15" y1="167.90" x2="385.15" y2="169.50" stroke="#444" stroke-width="0.9" />
<line x1="389.10" y1="157.90" x2="389.10" y2="161.20" stroke="#111" stroke-width="1.0" />
<text x="0" y="0" transform="translate(390.55 171.40) rotate(-90)" font-size="3.9" fill="#333" text-anchor="middle" font-weight="normal" font-style="normal" stroke="#333" stroke-width="0.2">C</text>
<text x="0" y="0" transform="translate(390.55 165.90) rotate(-90)" font-size="3.9" fill="#333" text-anchor="middle" font-weight="normal" font-style="normal" stroke="#333" stroke-width="0.2">A</text>
<line x1="389.10" y1="167.90" x2="389.10" y2="169.50" stroke="#444" stroke-width="0.9" />
<line x1="393.05" y1="157.90" x2="393.05" y2="161.20" stroke="#111" stroke-width="1.0" />
<text x="0" y="0" transform="translate(394.50 171.40) rotate(-90)" font-size="3.9" fill="#333" text-anchor="middle" font-weight="normal" font-style="normal" stroke="#333" stroke-width="0.2">C</text>
<text x="0" y="0" transform="translate(394.50 165.90) rotate(-90)" font-size="3.9" fill="#333" text-anchor="middle" font-weight="normal" font-style="normal" stroke="#333" stroke-width="0.2">C</text>
<line x1="393.05" y1="167.90" x2="393.05" y2="169.50" stroke="#444" stroke-width="0.9" />
<line x1="397.00" y1="157.90" x2="397.00" y2="161.20" stroke="#111" stroke-width="1.0" />
<text x="0" y="0" transform="translate(398.45 171.40) rotate(-90)" font-size="3.9" fill="#333" text-anchor="middle" font-weight="normal" font-style="normal" stroke="#333" stroke-width="0.2">C</text>
<text x="0" y="0" transform="translate(398.45 165.90) rotate(-90)" font-size="3.9" fill="#333" text-anchor="middle" font-weight="normal" font-style="normal" stroke="#333" stroke-width="0.2">G</text>
<line x1="397.00" y1="167.90" x2="397.00" y2="169.50" stroke="#444" stroke-width="0.9" />
<line x1="400.95" y1="157.90" x2="400.95" y2="161.20" stroke="#111" stroke-width="1.0" />
<text x="0" y="0" transform="translate(402.40 171.40) rotate(-90)" font-size="3.9" fill="#333" text-anchor="middle" font-weight="normal" font-style="normal" stroke="#333" stroke-width="0.2">C</text>
<text x="0" y="0" transform="translate(402.40 165.90) rotate(-90)" font-size="3.9" fill="#333" text-anchor="middle" font-weight="normal" font-style="normal" stroke="#333" stroke-width="0.2">T</text>
<line x1="400.95" y1="167.90" x2="400.95" y2="169.50" stroke="#444" stroke-width="0.9" />
<line x1="404.90" y1="157.90" x2="404.90" y2="161.20" stroke="#111" stroke-width="1.0" />
<text x="0" y="0" transform="translate(406.35 171.40) rotate(-90)" font-size="3.9" fill="#333" text-anchor="middle" font-weight="normal" font-style="normal" stroke="#333" stroke-width="0.2">G</text>
<text x="0" y="0" transform="translate(406.35 165.90) rotate(-90)" font-size="3.9" fill="#333" text-anchor="middle" font-weight="normal" font-style="normal" stroke="#333" stroke-width="0.2">A</text>
<line x1="404.90" y1="167.90" x2="404.90" y2="169.50" stroke="#444" stroke-width="0.9" />
<line x1="408.85" y1="157.90" x2="408.85" y2="161.20" stroke="#111" stroke-width="1.0" />
<text x="0" y="0" transform="translate(410.30 171.40) rotate(-90)" font-size="3.9" fill="#333" text-anchor="middle" font-weight="normal" font-style="normal" stroke="#333" stroke-width="0.2">G</text>
<text x="0" y="0" transform="translate(410.30 165.90) rotate(-90)" font-size="3.9" fill="#333" text-anchor="middle" font-weight="normal" font-style="normal" stroke="#333" stroke-width="0.2">C</text>
<line x1="408.85" y1="167.90" x2="408.85" y2="169.50" stroke="#444" stroke-width="0.9" />
<line x1="412.80" y1="157.90" x2="412.80" y2="161.20" stroke="#111" stroke-width="1.0" />
<text x="0" y="0" transform="translate(414.25 171.40) rotate(-90)" font-size="3.9" fill="#333" text-anchor="middle" font-weight="normal" font-style="normal" stroke="#333" stroke-width="0.2">G</text>
<text x="0" y="0" transform="translate(414.25 165.90) rotate(-90)" font-size="3.9" fill="#333" text-anchor="middle" font-weight="normal" font-style="normal" stroke="#333" stroke-width="0.2">G</text>
<line x1="412.80" y1="167.90" x2="412.80" y2="169.50" stroke="#444" stroke-width="0.9" />
<line x1="416.75" y1="157.90" x2="416.75" y2="161.20" stroke="#111" stroke-width="1.0" />
<text x="0" y="0" transform="translate(418.20 171.40) rotate(-90)" font-size="3.9" fill="#333" text-anchor="middle" font-weight="normal" font-style="normal" stroke="#333" stroke-width="0.2">G</text>
<text x="0" y="0" transform="translate(418.20 165.90) rotate(-90)" font-size="3.9" fill="#333" text-anchor="middle" font-weight="normal" font-style="normal" stroke="#333" stroke-width="0.2">T</text>
<line x1="416.75" y1="167.90" x2="416.75" y2="169.50" stroke="#444" stroke-width="0.9" />
<line x1="420.70" y1="157.90" x2="420.70" y2="161.20" stroke="#111" stroke-width="1.0" />
<text x="0" y="0" transform="translate(422.15 171.40) rotate(-90)" font-size="3.9" fill="#333" text-anchor="middle" font-weight="normal" font-style="normal" stroke="#333" stroke-width="0.2">T</text>
<text x="0" y="0" transform="translate(422.15 165.90) rotate(-90)" font-size="3.9" fill="#333" text-anchor="middle" font-weight="normal" font-style="normal" stroke="#333" stroke-width="0.2">A</text>
<line x1="420.70" y1="167.90" x2="420.70" y2="169.50" stroke="#444" stroke-width="0.9" />
<line x1="424.65" y1="157.90" x2="424.65" y2="161.20" stroke="#111" stroke-width="1.0" />
<text x="0" y="0" transform="translate(426.10 171.40) rotate(-90)" font-size="3.9" fill="#333" text-anchor="middle" font-weight="normal" font-style="normal" stroke="#333" stroke-width="0.2">T</text>
<text x="0" y="0" transform="translate(426.10 165.90) rotate(-90)" font-size="3.9" fill="#333" text-anchor="middle" font-weight="normal" font-style="normal" stroke="#333" stroke-width="0.2">C</text>
<line x1="424.65" y1="167.90" x2="424.65" y2="169.50" stroke="#444" stroke-width="0.9" />
<line x1="428.60" y1="157.90" x2="428.60" y2="161.20" stroke="#111" stroke-width="1.0" />
<text x="0" y="0" transform="translate(430.05 171.40) rotate(-90)" font-size="3.9" fill="#333" text-anchor="middle" font-weight="normal" font-style="normal" stroke="#333" stroke-width="0.2">T</text>
<text x="0" y="0" transform="translate(430.05 165.90) rotate(-90)" font-size="3.9" fill="#333" text-anchor="middle" font-weight="normal" font-style="normal" stroke="#333" stroke-width="0.2">G</text>
<line x1="428.60" y1="167.90" x2="428.60" y2="169.50" stroke="#444" stroke-width="0.9" />
<line x1="432.55" y1="157.90" x2="432.55" y2="161.20" stroke="#111" stroke-width="1.0" />
<text x="0" y="0" transform="translate(434.00 171.40) rotate(-90)" font-size="3.9" fill="#333" text-anchor="middle" font-weight="normal" font-style="normal" stroke="#333" stroke-width="0.2">T</text>
<text x="0" y="0" transform="translate(434.00 165.90) rotate(-90)" font-size="3.9" fill="#333" text-anchor="middle" font-weight="normal" font-style="normal" stroke="#333" stroke-width="0.2">T</text>
<line x1="432.55" y1="167.90" x2="432.55" y2="169.50" stroke="#444" stroke-width="0.9" />
<rect x="434.60" y="31.00" width="10.80" height="30.40" fill="#c6c4ca" stroke="#333" stroke-width="1.0"/>
<text x="0" y="0" transform="translate(438.00 46.20) rotate(90) scale(0.9438 1)" font-size="5.8" fill="#111" text-anchor="middle" font-weight="normal" font-style="normal" stroke="#111" stroke-width="0.2">Aging</text>
<rect x="434.60" y="63.10" width="10.80" height="30.30" fill="#c6c4ca" stroke="#333" stroke-width="1.0"/>
<text x="0" y="0" transform="translate(438.00 78.25) rotate(90) scale(1.0406 1)" font-size="5.8" fill="#111" text-anchor="middle" font-weight="normal" font-style="normal" stroke="#111" stroke-width="0.2">COSMIC2</text>
<rect x="434.60" y="95.40" width="10.80" height="30.40" fill="#c6c4ca" stroke="#333" stroke-width="1.0"/>
<text x="0" y="0" transform="translate(438.00 110.60) rotate(90) scale(0.9983 1)" font-size="5.8" fill="#111" text-anchor="middle" font-weight="normal" font-style="normal" stroke="#111" stroke-width="0.2">COSMIC13</text>
<rect x="434.60" y="127.60" width="10.80" height="29.70" fill="#c6c4ca" stroke="#333" stroke-width="1.0"/>
<text x="0" y="0" transform="translate(438.00 142.45) rotate(90) scale(0.9102 1)" font-size="5.8" fill="#111" text-anchor="middle" font-weight="normal" font-style="normal" stroke="#111" stroke-width="0.2">AID</text>
<text x="0" y="0" transform="translate(449.20 91.50) rotate(90) scale(0.9762 1)" font-size="5.8" fill="#111" text-anchor="middle" font-weight="normal" font-style="normal" stroke="#111" stroke-width="0.15">APOBEC</text>
<text x="0" y="0" transform="translate(24.00 94.30) rotate(-90) scale(0.7173 1)" font-size="8.4" fill="#1a1a1a" text-anchor="middle" font-weight="normal" font-style="normal" stroke="#1a1a1a" stroke-width="0.25">Contributions</text>
<text x="0" y="0" transform="translate(240.30 181.90) scale(0.6660 1)" font-size="6.8" fill="#1a1a1a" text-anchor="middle" font-weight="normal" font-style="normal" stroke="#1a1a1a" stroke-width="0.25">Tri-nucleotide sequence motifs</text>
<text x="0" y="0" transform="translate(7.50 209.40)" font-size="12" fill="#000" text-anchor="start" font-weight="bold" font-style="normal" stroke="#000" stroke-width="0.6">B</text>
<rect x="50.10" y="281.90" width="2.08" height="8.40" fill="#f8f8f8" stroke="#3a3a3a" stroke-width="0.45"/>
<rect x="52.18" y="285.80" width="2.08" height="4.50" fill="#f8f8f8" stroke="#3a3a3a" stroke-width="0.45"/>
<rect x="54.25" y="283.90" width="2.08" height="6.40" fill="#f8f8f8" stroke="#3a3a3a" stroke-width="0.45"/>
<rect x="56.33" y="281.00" width="2.08" height="9.30" fill="#f8f8f8" stroke="#3a3a3a" stroke-width="0.45"/>
<rect x="58.40" y="283.90" width="2.08" height="6.40" fill="#f8f8f8" stroke="#3a3a3a" stroke-width="0.45"/>
<rect x="60.48" y="275.90" width="2.08" height="14.40" fill="#f8f8f8" stroke="#3a3a3a" stroke-width="0.45"/>
<rect x="62.55" y="275.00" width="2.08" height="15.30" fill="#f8f8f8" stroke="#3a3a3a" stroke-width="0.45"/>
<rect x="64.62" y="270.10" width="2.08" height="20.20" fill="#f8f8f8" stroke="#3a3a3a" stroke-width="0.45"/>
<rect x="66.70" y="275.90" width="2.08" height="14.40" fill="#f8f8f8" stroke="#3a3a3a" stroke-width="0.45"/>
<rect x="68.78" y="281.60" width="2.08" height="8.70" fill="#f8f8f8" stroke="#3a3a3a" stroke-width="0.45"/>
<rect x="70.85" y="284.80" width="2.08" height="5.50" fill="#f8f8f8" stroke="#3a3a3a" stroke-width="0.45"/>
<rect x="72.93" y="286.30" width="2.08" height="4.00" fill="#f8f8f8" stroke="#3a3a3a" stroke-width="0.45"/>
<rect x="75.00" y="286.50" width="2.08" height="3.80" fill="#f8f8f8" stroke="#3a3a3a" stroke-width="0.45"/>
<rect x="77.08" y="288.00" width="2.08" height="2.30" fill="#f8f8f8" stroke="#3a3a3a" stroke-width="0.45"/>
<rect x="79.15" y="289.00" width="2.08" height="1.30" fill="#f8f8f8" stroke="#3a3a3a" stroke-width="0.45"/>
<rect x="81.23" y="289.10" width="2.08" height="1.20" fill="#f8f8f8" stroke="#3a3a3a" stroke-width="0.45"/>
<rect x="83.30" y="289.00" width="2.08" height="1.30" fill="#f8f8f8" stroke="#3a3a3a" stroke-width="0.45"/>
<rect x="85.38" y="287.00" width="2.08" height="3.30" fill="#f8f8f8" stroke="#3a3a3a" stroke-width="0.45"/>
<rect x="87.45" y="287.70" width="2.08" height="2.60" fill="#f8f8f8" stroke="#3a3a3a" stroke-width="0.45"/>
<rect x="89.53" y="286.50" width="2.08" height="3.80" fill="#f8f8f8" stroke="#3a3a3a" stroke-width="0.45"/>
<rect x="91.60" y="286.30" width="2.08" height="4.00" fill="#f8f8f8" stroke="#3a3a3a" stroke-width="0.45"/>
<rect x="93.68" y="285.80" width="2.08" height="4.50" fill="#f8f8f8" stroke="#3a3a3a" stroke-width="0.45"/>
<rect x="95.75" y="282.70" width="2.08" height="7.60" fill="#f8f8f8" stroke="#3a3a3a" stroke-width="0.45"/>
<rect x="97.83" y="279.20" width="2.08" height="11.10" fill="#f8f8f8" stroke="#3a3a3a" stroke-width="0.45"/>
<rect x="99.90" y="277.00" width="2.08" height="13.30" fill="#f8f8f8" stroke="#3a3a3a" stroke-width="0.45"/>
<rect x="101.98" y="272.00" width="2.08" height="18.30" fill="#f8f8f8" stroke="#3a3a3a" stroke-width="0.45"/>
<rect x="104.05" y="266.70" width="2.08" height="23.60" fill="#d2d2d2" stroke="#6a6a6a" stroke-width="0.45"/>
<rect x="106.12" y="254.00" width="2.08" height="36.30" fill="#d2d2d2" stroke="#6a6a6a" stroke-width="0.45"/>
<rect x="108.20" y="251.10" width="2.08" height="39.20" fill="#d2d2d2" stroke="#6a6a6a" stroke-width="0.45"/>
<rect x="110.28" y="241.30" width="2.08" height="49.00" fill="#d2d2d2" stroke="#6a6a6a" stroke-width="0.45"/>
<rect x="112.35" y="236.40" width="2.08" height="53.90" fill="#d2d2d2" stroke="#6a6a6a" stroke-width="0.45"/>
<rect x="114.43" y="230.20" width="2.08" height="60.10" fill="#d2d2d2" stroke="#6a6a6a" stroke-width="0.45"/>
<rect x="116.50" y="232.40" width="2.08" height="57.90" fill="#d2d2d2" stroke="#6a6a6a" stroke-width="0.45"/>
<rect x="118.58" y="231.70" width="2.08" height="58.60" fill="#d2d2d2" stroke="#6a6a6a" stroke-width="0.45"/>
<rect x="120.65" y="253.30" width="2.08" height="37.00" fill="#d2d2d2" stroke="#6a6a6a" stroke-width="0.45"/>
<rect x="122.72" y="266.20" width="2.08" height="24.10" fill="#d2d2d2" stroke="#6a6a6a" stroke-width="0.45"/>
<rect x="124.80" y="277.00" width="2.08" height="13.30" fill="#d2d2d2" stroke="#6a6a6a" stroke-width="0.45"/>
<rect x="126.88" y="285.00" width="2.08" height="5.30" fill="#d2d2d2" stroke="#6a6a6a" stroke-width="0.45"/>
<rect x="128.95" y="288.30" width="2.08" height="2.00" fill="#d2d2d2" stroke="#6a6a6a" stroke-width="0.45"/>
<rect x="131.03" y="289.70" width="2.08" height="0.60" fill="#d2d2d2" stroke="#6a6a6a" stroke-width="0.45"/>
<rect x="133.10" y="290.00" width="2.08" height="0.30" fill="#d2d2d2" stroke="#6a6a6a" stroke-width="0.45"/>
<rect x="137.25" y="289.10" width="2.08" height="1.20" fill="#d2d2d2" stroke="#6a6a6a" stroke-width="0.45"/>
<line x1="89.40" y1="233.50" x2="89.40" y2="290.00" stroke="#333" stroke-width="0.8" stroke-dasharray="0.9,1.4"/>
<line x1="48.30" y1="233.00" x2="48.30" y2="290.80" stroke="#222" stroke-width="1.0" />
<line x1="47.80" y1="290.40" x2="143.80" y2="290.40" stroke="#222" stroke-width="1.0" />
<line x1="45.30" y1="290.20" x2="48.30" y2="290.20" stroke="#222" stroke-width="0.9" />
<line x1="45.30" y1="279.35" x2="48.30" y2="279.35" stroke="#222" stroke-width="0.9" />
<line x1="45.30" y1="268.50" x2="48.30" y2="268.50" stroke="#222" stroke-width="0.9" />
<line x1="45.30" y1="257.65" x2="48.30" y2="257.65" stroke="#222" stroke-width="0.9" />
<line x1="45.30" y1="246.80" x2="48.30" y2="246.80" stroke="#222" stroke-width="0.9" />
<line x1="45.30" y1="235.95" x2="48.30" y2="235.95" stroke="#222" stroke-width="0.9" />
<text x="0" y="0" transform="translate(42.10 292.50)" font-size="7.0" fill="#222" text-anchor="end" font-weight="normal" font-style="normal" stroke="#222" stroke-width="0.15">0</text>
<text x="0" y="0" transform="translate(42.10 270.80)" font-size="7.0" fill="#222" text-anchor="end" font-weight="normal" font-style="normal" stroke="#222" stroke-width="0.15">200</text>
<text x="0" y="0" transform="translate(42.10 238.25)" font-size="7.0" fill="#222" text-anchor="end" font-weight="normal" font-style="normal" stroke="#222" stroke-width="0.15">500</text>
<line x1="48.40" y1="290.40" x2="48.40" y2="293.60" stroke="#222" stroke-width="0.9" />
<line x1="68.90" y1="290.40" x2="68.90" y2="293.60" stroke="#222" stroke-width="0.9" />
<line x1="89.40" y1="290.40" x2="89.40" y2="293.60" stroke="#222" stroke-width="0.9" />
<line x1="109.90" y1="290.40" x2="109.90" y2="293.60" stroke="#222" stroke-width="0.9" />
<line x1="130.40" y1="290.40" x2="130.40" y2="293.60" stroke="#222" stroke-width="0.9" />
<text x="0" y="0" transform="translate(48.40 301.60)" font-size="7.0" fill="#222" text-anchor="middle" font-weight="normal" font-style="normal" stroke="#222" stroke-width="0.15">0</text>
<text x="0" y="0" transform="translate(89.40 301.60)" font-size="7.0" fill="#222" text-anchor="middle" font-weight="normal" font-style="normal" stroke="#222" stroke-width="0.15">4</text>
<text x="0" y="0" transform="translate(130.40 301.60)" font-size="7.0" fill="#222" text-anchor="middle" font-weight="normal" font-style="normal" stroke="#222" stroke-width="0.15">8</text>
<text x="0" y="0" transform="translate(65.70 218.10) scale(0.9736 1)" font-size="6.6" fill="#cc2a2e" text-anchor="middle" font-weight="normal" font-style="normal" >Clustered</text>
<text x="0" y="0" transform="translate(65.60 226.00) scale(0.9471 1)" font-size="6.6" fill="#cc2a2e" text-anchor="middle" font-weight="normal" font-style="normal" >mutations</text>
<text x="0" y="0" transform="translate(115.00 218.10) scale(0.9565 1)" font-size="6.6" fill="#3b3e96" text-anchor="middle" font-weight="normal" font-style="normal" >Non-clustered</text>
<text x="0" y="0" transform="translate(114.90 226.00) scale(0.9471 1)" font-size="6.6" fill="#3b3e96" text-anchor="middle" font-weight="normal" font-style="normal" >mutations</text>
<text x="0" y="0" transform="translate(23.60 262.40) rotate(-90) scale(0.7544 1)" font-size="7.8" fill="#1a1a1a" text-anchor="middle" font-weight="normal" font-style="normal" stroke="#1a1a1a" stroke-width="0.25">Frequency</text>
<text x="0" y="0" transform="translate(74.20 314.80) scale(0.6897 1)" font-size="8.8" fill="#1a1a1a" text-anchor="start" font-weight="normal" font-style="normal" stroke="#1a1a1a" stroke-width="0.25">log</text>
<text x="0" y="0" transform="translate(82.60 317.40) scale(0.6473 1)" font-size="5.0" fill="#1a1a1a" text-anchor="start" font-weight="normal" font-style="normal" stroke="#1a1a1a" stroke-width="0.25">10</text>
<text x="0" y="0" transform="translate(88.00 314.80) scale(0.6872 1)" font-size="8.8" fill="#1a1a1a" text-anchor="start" font-weight="normal" font-style="normal" stroke="#1a1a1a" stroke-width="0.25">(NMD)</text>
<text x="0" y="0" transform="translate(159.80 209.60)" font-size="12" fill="#000" text-anchor="start" font-weight="bold" font-style="normal" stroke="#000" stroke-width="0.6">C</text>
<rect x="199.50" y="217.90" width="5.85" height="2.01" fill="#cd1a24" />
<rect x="199.50" y="219.90" width="5.85" height="23.50" fill="#3d4a9c" />
<rect x="205.96" y="216.70" width="5.85" height="1.21" fill="#cd1a24" />
<rect x="205.96" y="217.90" width="5.85" height="25.50" fill="#3d4a9c" />
<rect x="212.41" y="213.80" width="5.85" height="0.91" fill="#cd1a24" />
<rect x="212.41" y="214.70" width="5.85" height="28.70" fill="#3d4a9c" />
<rect x="218.87" y="214.70" width="5.85" height="1.71" fill="#cd1a24" />
<rect x="218.87" y="216.40" width="5.85" height="27.00" fill="#3d4a9c" />
<rect x="225.32" y="219.00" width="5.85" height="0.61" fill="#cd1a24" />
<rect x="225.32" y="219.60" width="5.85" height="23.80" fill="#3d4a9c" />
<rect x="231.78" y="223.60" width="5.85" height="1.01" fill="#cd1a24" />
<rect x="231.78" y="224.60" width="5.85" height="18.80" fill="#3d4a9c" />
<rect x="238.23" y="222.90" width="5.85" height="1.21" fill="#cd1a24" />
<rect x="238.23" y="224.10" width="5.85" height="19.30" fill="#3d4a9c" />
<rect x="244.69" y="217.90" width="5.85" height="0.71" fill="#cd1a24" />
<rect x="244.69" y="218.60" width="5.85" height="24.80" fill="#3d4a9c" />
<rect x="251.14" y="221.90" width="5.85" height="0.71" fill="#cd1a24" />
<rect x="251.14" y="222.60" width="5.85" height="20.80" fill="#3d4a9c" />
<rect x="257.60" y="222.20" width="5.85" height="1.41" fill="#cd1a24" />
<rect x="257.60" y="223.60" width="5.85" height="19.80" fill="#3d4a9c" />
<rect x="264.05" y="230.70" width="5.85" height="0.01" fill="#cd1a24" />
<rect x="264.05" y="230.70" width="5.85" height="12.70" fill="#3d4a9c" />
<rect x="270.50" y="223.50" width="5.85" height="0.31" fill="#cd1a24" />
<rect x="270.50" y="223.80" width="5.85" height="19.60" fill="#3d4a9c" />
<rect x="276.96" y="225.80" width="5.85" height="1.91" fill="#cd1a24" />
<rect x="276.96" y="227.70" width="5.85" height="15.70" fill="#3d4a9c" />
<rect x="283.42" y="228.40" width="5.85" height="1.01" fill="#cd1a24" />
<rect x="283.42" y="229.40" width="5.85" height="14.00" fill="#3d4a9c" />
<rect x="289.87" y="230.10" width="5.85" height="1.51" fill="#cd1a24" />
<rect x="289.87" y="231.60" width="5.85" height="11.80" fill="#3d4a9c" />
<rect x="296.32" y="231.90" width="5.85" height="0.71" fill="#cd1a24" />
<rect x="296.32" y="232.60" width="5.85" height="10.80" fill="#3d4a9c" />
<rect x="302.78" y="234.00" width="5.85" height="0.01" fill="#cd1a24" />
<rect x="302.78" y="234.00" width="5.85" height="9.40" fill="#3d4a9c" />
<rect x="309.24" y="234.30" width="5.85" height="0.01" fill="#cd1a24" />
<rect x="309.24" y="234.30" width="5.85" height="9.10" fill="#3d4a9c" />
<rect x="315.69" y="234.00" width="5.85" height="0.01" fill="#cd1a24" />
<rect x="315.69" y="234.00" width="5.85" height="9.40" fill="#3d4a9c" />
<rect x="322.14" y="234.90" width="5.85" height="0.91" fill="#cd1a24" />
<rect x="322.14" y="235.80" width="5.85" height="7.60" fill="#3d4a9c" />
<rect x="328.60" y="238.60" width="5.85" height="1.01" fill="#cd1a24" />
<rect x="328.60" y="239.60" width="5.85" height="3.80" fill="#3d4a9c" />
<rect x="199.50" y="256.70" width="5.85" height="0.01" fill="#cd1a24" />
<rect x="199.50" y="256.70" width="5.85" height="20.60" fill="#3d4a9c" />
<rect x="205.96" y="258.60" width="5.85" height="0.81" fill="#cd1a24" />
<rect x="205.96" y="259.40" width="5.85" height="17.90" fill="#3d4a9c" />
<rect x="212.41" y="275.00" width="5.85" height="0.01" fill="#cd1a24" />
<rect x="212.41" y="275.00" width="5.85" height="2.30" fill="#3d4a9c" />
<rect x="218.87" y="272.50" width="5.85" height="3.31" fill="#cd1a24" />
<rect x="218.87" y="275.80" width="5.85" height="1.50" fill="#3d4a9c" />
<rect x="225.32" y="247.50" width="5.85" height="1.01" fill="#cd1a24" />
<rect x="225.32" y="248.50" width="5.85" height="28.80" fill="#3d4a9c" />
<rect x="231.78" y="251.90" width="5.85" height="2.31" fill="#cd1a24" />
<rect x="231.78" y="254.20" width="5.85" height="23.10" fill="#3d4a9c" />
<rect x="238.23" y="259.60" width="5.85" height="1.71" fill="#cd1a24" />
<rect x="238.23" y="261.30" width="5.85" height="16.00" fill="#3d4a9c" />
<rect x="244.69" y="276.50" width="5.85" height="0.01" fill="#cd1a24" />
<rect x="244.69" y="276.50" width="5.85" height="0.80" fill="#3d4a9c" />
<rect x="251.14" y="263.80" width="5.85" height="1.41" fill="#cd1a24" />
<rect x="251.14" y="265.20" width="5.85" height="12.10" fill="#3d4a9c" />
<rect x="257.60" y="268.60" width="5.85" height="1.61" fill="#cd1a24" />
<rect x="257.60" y="270.20" width="5.85" height="7.10" fill="#3d4a9c" />
<rect x="264.05" y="276.70" width="5.85" height="0.61" fill="#cd1a24" />
<rect x="270.50" y="275.20" width="5.85" height="0.81" fill="#cd1a24" />
<rect x="270.50" y="276.00" width="5.85" height="1.30" fill="#3d4a9c" />
<rect x="276.96" y="273.80" width="5.85" height="0.01" fill="#cd1a24" />
<rect x="276.96" y="273.80" width="5.85" height="3.50" fill="#3d4a9c" />
<rect x="283.42" y="275.40" width="5.85" height="0.01" fill="#cd1a24" />
<rect x="283.42" y="275.40" width="5.85" height="1.90" fill="#3d4a9c" />
<rect x="289.87" y="274.40" width="5.85" height="0.01" fill="#cd1a24" />
<rect x="289.87" y="274.40" width="5.85" height="2.90" fill="#3d4a9c" />
<rect x="296.32" y="274.40" width="5.85" height="1.61" fill="#cd1a24" />
<rect x="296.32" y="276.00" width="5.85" height="1.30" fill="#3d4a9c" />
<rect x="302.78" y="261.30" width="5.85" height="1.61" fill="#cd1a24" />
<rect x="302.78" y="262.90" width="5.85" height="14.40" fill="#3d4a9c" />
<rect x="309.24" y="274.40" width="5.85" height="0.01" fill="#cd1a24" />
<rect x="309.24" y="274.40" width="5.85" height="2.90" fill="#3d4a9c" />
<rect x="315.69" y="275.80" width="5.85" height="0.01" fill="#cd1a24" />
<rect x="315.69" y="275.80" width="5.85" height="1.50" fill="#3d4a9c" />
<rect x="322.14" y="274.00" width="5.85" height="0.01" fill="#cd1a24" />
<rect x="322.14" y="274.00" width="5.85" height="3.30" fill="#3d4a9c" />
<rect x="328.60" y="271.30" width="5.85" height="1.21" fill="#cd1a24" />
<rect x="328.60" y="272.50" width="5.85" height="4.80" fill="#3d4a9c" />
<rect x="199.50" y="291.40" width="5.85" height="4.81" fill="#cd1a24" />
<rect x="199.50" y="296.20" width="5.85" height="14.80" fill="#3d4a9c" />
<rect x="205.96" y="302.00" width="5.85" height="1.91" fill="#cd1a24" />
<rect x="205.96" y="303.90" width="5.85" height="7.10" fill="#3d4a9c" />
<rect x="212.41" y="289.80" width="5.85" height="1.21" fill="#cd1a24" />
<rect x="212.41" y="291.00" width="5.85" height="20.00" fill="#3d4a9c" />
<rect x="218.87" y="295.60" width="5.85" height="1.21" fill="#cd1a24" />
<rect x="218.87" y="296.80" width="5.85" height="14.20" fill="#3d4a9c" />
<rect x="225.32" y="281.40" width="5.85" height="4.61" fill="#cd1a24" />
<rect x="225.32" y="286.00" width="5.85" height="25.00" fill="#3d4a9c" />
<rect x="231.78" y="287.90" width="5.85" height="1.01" fill="#cd1a24" />
<rect x="231.78" y="288.90" width="5.85" height="22.10" fill="#3d4a9c" />
<rect x="238.23" y="302.00" width="5.85" height="2.31" fill="#cd1a24" />
<rect x="238.23" y="304.30" width="5.85" height="6.70" fill="#3d4a9c" />
<rect x="244.69" y="302.90" width="5.85" height="1.01" fill="#cd1a24" />
<rect x="244.69" y="303.90" width="5.85" height="7.10" fill="#3d4a9c" />
<rect x="251.14" y="305.20" width="5.85" height="0.01" fill="#cd1a24" />
<rect x="251.14" y="305.20" width="5.85" height="5.80" fill="#3d4a9c" />
<rect x="257.60" y="310.20" width="5.85" height="0.81" fill="#cd1a24" />
<rect x="264.05" y="307.30" width="5.85" height="1.41" fill="#cd1a24" />
<rect x="264.05" y="308.70" width="5.85" height="2.30" fill="#3d4a9c" />
<rect x="270.50" y="302.90" width="5.85" height="0.01" fill="#cd1a24" />
<rect x="270.50" y="302.90" width="5.85" height="8.10" fill="#3d4a9c" />
<rect x="276.96" y="292.30" width="5.85" height="0.01" fill="#cd1a24" />
<rect x="276.96" y="292.30" width="5.85" height="18.70" fill="#3d4a9c" />
<rect x="283.42" y="305.80" width="5.85" height="0.01" fill="#cd1a24" />
<rect x="283.42" y="305.80" width="5.85" height="5.20" fill="#3d4a9c" />
<rect x="289.87" y="306.20" width="5.85" height="0.01" fill="#cd1a24" />
<rect x="289.87" y="306.20" width="5.85" height="4.80" fill="#3d4a9c" />
<rect x="296.32" y="308.10" width="5.85" height="0.01" fill="#cd1a24" />
<rect x="296.32" y="308.10" width="5.85" height="2.90" fill="#3d4a9c" />
<rect x="302.78" y="301.00" width="5.85" height="0.01" fill="#cd1a24" />
<rect x="302.78" y="301.00" width="5.85" height="10.00" fill="#3d4a9c" />
<rect x="309.24" y="300.00" width="5.85" height="2.91" fill="#cd1a24" />
<rect x="309.24" y="302.90" width="5.85" height="8.10" fill="#3d4a9c" />
<rect x="315.69" y="310.50" width="5.85" height="0.01" fill="#cd1a24" />
<rect x="315.69" y="310.50" width="5.85" height="0.50" fill="#3d4a9c" />
<rect x="322.14" y="309.10" width="5.85" height="0.01" fill="#cd1a24" />
<rect x="322.14" y="309.10" width="5.85" height="1.90" fill="#3d4a9c" />
<rect x="328.60" y="309.10" width="5.85" height="0.01" fill="#cd1a24" />
<rect x="328.60" y="309.10" width="5.85" height="1.90" fill="#3d4a9c" />
<rect x="199.50" y="318.10" width="5.85" height="20.21" fill="#cd1a24" />
<rect x="199.50" y="338.30" width="5.85" height="6.70" fill="#3d4a9c" />
<rect x="205.96" y="315.60" width="5.85" height="11.91" fill="#cd1a24" />
<rect x="205.96" y="327.50" width="5.85" height="17.50" fill="#3d4a9c" />
<rect x="212.41" y="326.70" width="5.85" height="18.31" fill="#cd1a24" />
<rect x="218.87" y="328.10" width="5.85" height="16.91" fill="#cd1a24" />
<rect x="225.32" y="333.80" width="5.85" height="11.21" fill="#cd1a24" />
<rect x="231.78" y="327.70" width="5.85" height="12.91" fill="#cd1a24" />
<rect x="231.78" y="340.60" width="5.85" height="4.40" fill="#3d4a9c" />
<rect x="238.23" y="321.00" width="5.85" height="14.81" fill="#cd1a24" />
<rect x="238.23" y="335.80" width="5.85" height="9.20" fill="#3d4a9c" />
<rect x="244.69" y="334.80" width="5.85" height="9.71" fill="#cd1a24" />
<rect x="244.69" y="344.50" width="5.85" height="0.50" fill="#3d4a9c" />
<rect x="251.14" y="328.70" width="5.85" height="11.51" fill="#cd1a24" />
<rect x="251.14" y="340.20" width="5.85" height="4.80" fill="#3d4a9c" />
<rect x="257.60" y="330.60" width="5.85" height="10.41" fill="#cd1a24" />
<rect x="257.60" y="341.00" width="5.85" height="4.00" fill="#3d4a9c" />
<rect x="264.05" y="315.60" width="5.85" height="23.11" fill="#cd1a24" />
<rect x="264.05" y="338.70" width="5.85" height="6.30" fill="#3d4a9c" />
<rect x="270.50" y="334.80" width="5.85" height="10.21" fill="#cd1a24" />
<rect x="283.42" y="334.20" width="5.85" height="7.01" fill="#cd1a24" />
<rect x="283.42" y="341.20" width="5.85" height="3.80" fill="#3d4a9c" />
<rect x="289.87" y="336.30" width="5.85" height="8.71" fill="#cd1a24" />
<rect x="296.32" y="334.80" width="5.85" height="8.31" fill="#cd1a24" />
<rect x="296.32" y="343.10" width="5.85" height="1.90" fill="#3d4a9c" />
<rect x="302.78" y="340.20" width="5.85" height="4.81" fill="#cd1a24" />
<rect x="309.24" y="339.60" width="5.85" height="4.21" fill="#cd1a24" />
<rect x="309.24" y="343.80" width="5.85" height="1.20" fill="#3d4a9c" />
<rect x="315.69" y="335.80" width="5.85" height="9.21" fill="#cd1a24" />
<rect x="322.14" y="337.30" width="5.85" height="3.71" fill="#cd1a24" />
<rect x="322.14" y="341.00" width="5.85" height="4.00" fill="#3d4a9c" />
<rect x="328.60" y="341.50" width="5.85" height="3.51" fill="#cd1a24" />
<rect x="198.65" y="212.35" width="135.80" height="31.35" fill="none" stroke="#333" stroke-width="0.9"/>
<rect x="198.65" y="246.45" width="135.80" height="31.35" fill="none" stroke="#333" stroke-width="0.9"/>
<rect x="198.65" y="279.85" width="135.80" height="31.75" fill="none" stroke="#333" stroke-width="0.9"/>
<rect x="198.65" y="313.15" width="135.80" height="32.05" fill="none" stroke="#333" stroke-width="0.9"/>
<rect x="198.20" y="243.80" width="136.60" height="2.50" fill="#5c5c5c" />
<rect x="198.20" y="277.90" width="136.60" height="2.50" fill="#5c5c5c" />
<rect x="198.20" y="311.70" width="136.60" height="2.50" fill="#5c5c5c" />
<rect x="198.20" y="345.00" width="136.60" height="1.30" fill="#333" />
<line x1="195.30" y1="243.40" x2="198.40" y2="243.40" stroke="#333" stroke-width="0.9" />
<text x="0" y="0" transform="translate(192.30 245.60)" font-size="7.0" fill="#222" text-anchor="end" font-weight="normal" font-style="normal" stroke="#222" stroke-width="0.15">0</text>
<line x1="195.30" y1="234.17" x2="198.40" y2="234.17" stroke="#333" stroke-width="0.9" />
<line x1="195.30" y1="224.93" x2="198.40" y2="224.93" stroke="#333" stroke-width="0.9" />
<line x1="195.30" y1="215.70" x2="198.40" y2="215.70" stroke="#333" stroke-width="0.9" />
<text x="0" y="0" transform="translate(192.30 217.90)" font-size="7.0" fill="#222" text-anchor="end" font-weight="normal" font-style="normal" stroke="#222" stroke-width="0.15">300</text>
<line x1="195.30" y1="277.30" x2="198.40" y2="277.30" stroke="#333" stroke-width="0.9" />
<text x="0" y="0" transform="translate(192.30 279.50)" font-size="7.0" fill="#222" text-anchor="end" font-weight="normal" font-style="normal" stroke="#222" stroke-width="0.15">0</text>
<line x1="195.30" y1="270.65" x2="198.40" y2="270.65" stroke="#333" stroke-width="0.9" />
<line x1="195.30" y1="264.00" x2="198.40" y2="264.00" stroke="#333" stroke-width="0.9" />
<line x1="195.30" y1="257.35" x2="198.40" y2="257.35" stroke="#333" stroke-width="0.9" />
<line x1="195.30" y1="250.70" x2="198.40" y2="250.70" stroke="#333" stroke-width="0.9" />
<text x="0" y="0" transform="translate(192.30 252.90)" font-size="7.0" fill="#222" text-anchor="end" font-weight="normal" font-style="normal" stroke="#222" stroke-width="0.15">40</text>
<line x1="195.30" y1="311.00" x2="198.40" y2="311.00" stroke="#333" stroke-width="0.9" />
<text x="0" y="0" transform="translate(192.30 313.20)" font-size="7.0" fill="#222" text-anchor="end" font-weight="normal" font-style="normal" stroke="#222" stroke-width="0.15">0</text>
<line x1="195.30" y1="302.07" x2="198.40" y2="302.07" stroke="#333" stroke-width="0.9" />
<line x1="195.30" y1="293.13" x2="198.40" y2="293.13" stroke="#333" stroke-width="0.9" />
<line x1="195.30" y1="284.20" x2="198.40" y2="284.20" stroke="#333" stroke-width="0.9" />
<text x="0" y="0" transform="translate(192.30 286.40)" font-size="7.0" fill="#222" text-anchor="end" font-weight="normal" font-style="normal" stroke="#222" stroke-width="0.15">60</text>
<line x1="195.30" y1="345.00" x2="198.40" y2="345.00" stroke="#333" stroke-width="0.9" />
<text x="0" y="0" transform="translate(192.30 347.20)" font-size="7.0" fill="#222" text-anchor="end" font-weight="normal" font-style="normal" stroke="#222" stroke-width="0.15">0</text>
<line x1="195.30" y1="334.35" x2="198.40" y2="334.35" stroke="#333" stroke-width="0.9" />
<line x1="195.30" y1="323.70" x2="198.40" y2="323.70" stroke="#333" stroke-width="0.9" />
<text x="0" y="0" transform="translate(192.30 325.90)" font-size="7.0" fill="#222" text-anchor="end" font-weight="normal" font-style="normal" stroke="#222" stroke-width="0.15">100</text>
<rect x="335.00" y="212.30" width="11.80" height="31.70" fill="#d9d9d9" />
<text x="0" y="0" transform="translate(338.90 228.15) rotate(90) scale(0.9168 1)" font-size="5.8" fill="#222" text-anchor="middle" font-weight="normal" font-style="normal" stroke="#222" stroke-width="0.15">Aging</text>
<rect x="335.00" y="246.40" width="11.80" height="31.70" fill="#d9d9d9" />
<text x="0" y="0" transform="translate(338.90 262.25) rotate(90) scale(0.9536 1)" font-size="5.8" fill="#222" text-anchor="middle" font-weight="normal" font-style="normal" stroke="#222" stroke-width="0.15">COSMIC2</text>
<rect x="335.00" y="279.80" width="11.80" height="32.10" fill="#d9d9d9" />
<text x="0" y="0" transform="translate(338.90 295.85) rotate(90) scale(1.0050 1)" font-size="5.8" fill="#222" text-anchor="middle" font-weight="normal" font-style="normal" stroke="#222" stroke-width="0.15">COSMIC13</text>
<rect x="335.00" y="313.10" width="11.80" height="32.40" fill="#d9d9d9" />
<text x="0" y="0" transform="translate(338.90 329.30) rotate(90) scale(0.8895 1)" font-size="5.8" fill="#222" text-anchor="middle" font-weight="normal" font-style="normal" stroke="#222" stroke-width="0.15">AID</text>
<text x="0" y="0" transform="translate(350.80 279.00) rotate(90) scale(0.9845 1)" font-size="5.8" fill="#222" text-anchor="middle" font-weight="normal" font-style="normal" stroke="#222" stroke-width="0.15">APOBEC</text>
<rect x="290.10" y="213.50" width="6.50" height="4.90" fill="#cd1a24" />
<rect x="290.10" y="220.30" width="6.50" height="5.30" fill="#3d4a9c" />
<text x="0" y="0" transform="translate(299.80 217.80) scale(0.9865 1)" font-size="5.4" fill="#222" text-anchor="start" font-weight="normal" font-style="normal" >Clustered</text>
<text x="0" y="0" transform="translate(299.80 224.80) scale(0.9787 1)" font-size="5.4" fill="#222" text-anchor="start" font-weight="normal" font-style="normal" >Non-clustered</text>
<text x="0" y="0" transform="translate(205.73 348.60) rotate(-90) scale(1.0667 1)" font-size="6.0" fill="#1a1a1a" text-anchor="end" font-weight="normal" font-style="normal" stroke="#1a1a1a" stroke-width="0.12">c_cHL_7</text>
<text x="0" y="0" transform="translate(212.18 348.60) rotate(-90) scale(1.0667 1)" font-size="6.0" fill="#1a1a1a" text-anchor="end" font-weight="normal" font-style="normal" stroke="#1a1a1a" stroke-width="0.12">c_cHL_103</text>
<text x="0" y="0" transform="translate(218.64 348.60) rotate(-90) scale(1.0667 1)" font-size="6.0" fill="#1a1a1a" text-anchor="end" font-weight="normal" font-style="normal" stroke="#1a1a1a" stroke-width="0.12">c_cHL_47</text>
<text x="0" y="0" transform="translate(225.09 348.60) rotate(-90) scale(1.0667 1)" font-size="6.0" fill="#1a1a1a" text-anchor="end" font-weight="normal" font-style="normal" stroke="#1a1a1a" stroke-width="0.12">c_cHL_104</text>
<text x="0" y="0" transform="translate(231.55 348.60) rotate(-90) scale(1.0667 1)" font-size="6.0" fill="#1a1a1a" text-anchor="end" font-weight="normal" font-style="normal" stroke="#1a1a1a" stroke-width="0.12">c_cHL_43</text>
<text x="0" y="0" transform="translate(238.00 348.60) rotate(-90) scale(1.0667 1)" font-size="6.0" fill="#1a1a1a" text-anchor="end" font-weight="normal" font-style="normal" stroke="#1a1a1a" stroke-width="0.12">c_cHL_100</text>
<text x="0" y="0" transform="translate(244.46 348.60) rotate(-90) scale(1.0667 1)" font-size="6.0" fill="#1a1a1a" text-anchor="end" font-weight="normal" font-style="normal" stroke="#1a1a1a" stroke-width="0.12">c_cHL_46</text>
<text x="0" y="0" transform="translate(250.91 348.60) rotate(-90) scale(1.0667 1)" font-size="6.0" fill="#1a1a1a" text-anchor="end" font-weight="normal" font-style="normal" stroke="#1a1a1a" stroke-width="0.12">c_cHL_21</text>
<text x="0" y="0" transform="translate(257.37 348.60) rotate(-90) scale(1.0667 1)" font-size="6.0" fill="#1a1a1a" text-anchor="end" font-weight="normal" font-style="normal" stroke="#1a1a1a" stroke-width="0.12">c_cHL_12</text>
<text x="0" y="0" transform="translate(263.82 348.60) rotate(-90) scale(1.0667 1)" font-size="6.0" fill="#1a1a1a" text-anchor="end" font-weight="normal" font-style="normal" stroke="#1a1a1a" stroke-width="0.12">c_cHL_16</text>
<text x="0" y="0" transform="translate(270.28 348.60) rotate(-90) scale(1.0667 1)" font-size="6.0" fill="#1a1a1a" text-anchor="end" font-weight="normal" font-style="normal" stroke="#1a1a1a" stroke-width="0.12">c_cHL_45</text>
<text x="0" y="0" transform="translate(276.73 348.60) rotate(-90) scale(1.0667 1)" font-size="6.0" fill="#1a1a1a" text-anchor="end" font-weight="normal" font-style="normal" stroke="#1a1a1a" stroke-width="0.12">c_cHL_44</text>
<text x="0" y="0" transform="translate(283.19 348.60) rotate(-90) scale(1.0667 1)" font-size="6.0" fill="#1a1a1a" text-anchor="end" font-weight="normal" font-style="normal" stroke="#1a1a1a" stroke-width="0.12">c_cHL_102</text>
<text x="0" y="0" transform="translate(289.64 348.60) rotate(-90) scale(1.0667 1)" font-size="6.0" fill="#1a1a1a" text-anchor="end" font-weight="normal" font-style="normal" stroke="#1a1a1a" stroke-width="0.12">c_cHL_28</text>
<text x="0" y="0" transform="translate(296.10 348.60) rotate(-90) scale(1.0667 1)" font-size="6.0" fill="#1a1a1a" text-anchor="end" font-weight="normal" font-style="normal" stroke="#1a1a1a" stroke-width="0.12">c_cHL_48</text>
<text x="0" y="0" transform="translate(302.55 348.60) rotate(-90) scale(1.0667 1)" font-size="6.0" fill="#1a1a1a" text-anchor="end" font-weight="normal" font-style="normal" stroke="#1a1a1a" stroke-width="0.12">c_cHL_49</text>
<text x="0" y="0" transform="translate(309.00 348.60) rotate(-90) scale(1.0667 1)" font-size="6.0" fill="#1a1a1a" text-anchor="end" font-weight="normal" font-style="normal" stroke="#1a1a1a" stroke-width="0.12">c_cHL_40</text>
<text x="0" y="0" transform="translate(315.46 348.60) rotate(-90) scale(1.0667 1)" font-size="6.0" fill="#1a1a1a" text-anchor="end" font-weight="normal" font-style="normal" stroke="#1a1a1a" stroke-width="0.12">c_cHL_6</text>
<text x="0" y="0" transform="translate(321.92 348.60) rotate(-90) scale(1.0667 1)" font-size="6.0" fill="#1a1a1a" text-anchor="end" font-weight="normal" font-style="normal" stroke="#1a1a1a" stroke-width="0.12">c_cHL_15</text>
<text x="0" y="0" transform="translate(328.37 348.60) rotate(-90) scale(1.0667 1)" font-size="6.0" fill="#1a1a1a" text-anchor="end" font-weight="normal" font-style="normal" stroke="#1a1a1a" stroke-width="0.12">c_cHL_3</text>
<text x="0" y="0" transform="translate(334.83 348.60) rotate(-90) scale(1.0667 1)" font-size="6.0" fill="#1a1a1a" text-anchor="end" font-weight="normal" font-style="normal" stroke="#1a1a1a" stroke-width="0.12">c_cHL_51</text>
<text x="0" y="0" transform="translate(267.00 392.80) scale(0.6807 1)" font-size="8.8" fill="#1a1a1a" text-anchor="middle" font-weight="normal" font-style="normal" stroke="#1a1a1a" stroke-width="0.25">Primary samples</text>
<text x="0" y="0" transform="translate(176.80 279.00) rotate(-90) scale(0.7173 1)" font-size="8.4" fill="#1a1a1a" text-anchor="middle" font-weight="normal" font-style="normal" stroke="#1a1a1a" stroke-width="0.25">Contributions</text>
<text x="0" y="0" transform="translate(371.80 209.80)" font-size="12" fill="#000" text-anchor="start" font-weight="bold" font-style="normal" stroke="#000" stroke-width="0.6">D</text>
<rect x="413.60" y="213.35" width="2.39" height="9.90" fill="#7f2f8c" />
<rect x="415.99" y="213.35" width="68.01" height="9.90" fill="#e5961a" />
<rect x="486.80" y="213.50" width="2.10" height="9.60" fill="#555" />
<line x1="410.20" y1="218.30" x2="413.30" y2="218.30" stroke="#222" stroke-width="1.0" />
<text x="0" y="0" transform="translate(407.50 220.80)" font-size="7.0" fill="#222" text-anchor="end" font-weight="normal" font-style="italic" stroke="#222" stroke-width="0.15">RBM38</text>
<rect x="413.60" y="225.72" width="10.77" height="9.90" fill="#7f2f8c" />
<rect x="424.37" y="225.72" width="1.48" height="9.90" fill="#92cbe0" />
<rect x="425.85" y="225.72" width="58.15" height="9.90" fill="#e5961a" />
<line x1="423.50" y1="230.67" x2="428.80" y2="230.67" stroke="#111" stroke-width="1.1" />
<rect x="486.80" y="225.87" width="21.00" height="9.60" fill="#555" />
<line x1="410.20" y1="230.67" x2="413.30" y2="230.67" stroke="#222" stroke-width="1.0" />
<text x="0" y="0" transform="translate(407.50 233.17)" font-size="7.0" fill="#222" text-anchor="end" font-weight="normal" font-style="italic" stroke="#222" stroke-width="0.15">SOCS1</text>
<rect x="413.60" y="238.09" width="13.87" height="9.90" fill="#7f2f8c" />
<rect x="427.47" y="238.09" width="10.98" height="9.90" fill="#92cbe0" />
<rect x="438.45" y="238.09" width="45.55" height="9.90" fill="#e5961a" />
<line x1="424.60" y1="243.04" x2="430.00" y2="243.04" stroke="#111" stroke-width="1.1" />
<line x1="435.40" y1="243.04" x2="442.00" y2="243.04" stroke="#111" stroke-width="1.1" />
<rect x="486.80" y="238.24" width="7.50" height="9.60" fill="#555" />
<line x1="410.20" y1="243.04" x2="413.30" y2="243.04" stroke="#222" stroke-width="1.0" />
<text x="0" y="0" transform="translate(407.50 245.54)" font-size="7.0" fill="#222" text-anchor="end" font-weight="normal" font-style="italic" stroke="#222" stroke-width="0.15">STAT6</text>
<rect x="413.60" y="250.46" width="17.60" height="9.90" fill="#7f2f8c" />
<rect x="431.20" y="250.46" width="52.80" height="9.90" fill="#e5961a" />
<line x1="426.90" y1="255.41" x2="436.90" y2="255.41" stroke="#111" stroke-width="1.1" />
<rect x="486.80" y="250.61" width="4.10" height="9.60" fill="#555" />
<line x1="410.20" y1="255.41" x2="413.30" y2="255.41" stroke="#222" stroke-width="1.0" />
<text x="0" y="0" transform="translate(407.50 257.91)" font-size="7.0" fill="#222" text-anchor="end" font-weight="normal" font-style="italic" stroke="#222" stroke-width="0.15">GNA13</text>
<rect x="413.60" y="262.83" width="24.01" height="9.90" fill="#7f2f8c" />
<rect x="437.61" y="262.83" width="14.43" height="9.90" fill="#92cbe0" />
<rect x="452.04" y="262.83" width="31.96" height="9.90" fill="#e5961a" />
<line x1="431.20" y1="267.78" x2="460.00" y2="267.78" stroke="#111" stroke-width="1.1" />
<rect x="486.80" y="262.98" width="2.10" height="9.60" fill="#555" />
<line x1="410.20" y1="267.78" x2="413.30" y2="267.78" stroke="#222" stroke-width="1.0" />
<text x="0" y="0" transform="translate(407.50 270.28)" font-size="7.0" fill="#222" text-anchor="end" font-weight="normal" font-style="italic" stroke="#222" stroke-width="0.15">TNFAIP3</text>
<rect x="413.60" y="275.20" width="28.72" height="9.90" fill="#7f2f8c" />
<rect x="442.32" y="275.20" width="1.48" height="9.90" fill="#92cbe0" />
<rect x="443.80" y="275.20" width="40.20" height="9.90" fill="#e5961a" />
<line x1="433.80" y1="280.15" x2="452.80" y2="280.15" stroke="#111" stroke-width="1.1" />
<rect x="486.80" y="275.35" width="2.10" height="9.60" fill="#555" />
<line x1="410.20" y1="280.15" x2="413.30" y2="280.15" stroke="#222" stroke-width="1.0" />
<text x="0" y="0" transform="translate(407.50 282.65)" font-size="7.0" fill="#222" text-anchor="end" font-weight="normal" font-style="italic" stroke="#222" stroke-width="0.15">HLA-B</text>
<rect x="413.60" y="287.57" width="44.70" height="9.90" fill="#7f2f8c" />
<rect x="458.30" y="287.57" width="1.20" height="9.90" fill="#92cbe0" />
<rect x="459.50" y="287.57" width="24.50" height="9.90" fill="#e5961a" />
<line x1="450.80" y1="292.52" x2="467.70" y2="292.52" stroke="#111" stroke-width="1.1" />
<rect x="486.80" y="287.72" width="2.10" height="9.60" fill="#555" />
<line x1="410.20" y1="292.52" x2="413.30" y2="292.52" stroke="#222" stroke-width="1.0" />
<text x="0" y="0" transform="translate(407.50 295.02)" font-size="7.0" fill="#222" text-anchor="end" font-weight="normal" font-style="italic" stroke="#222" stroke-width="0.15">ACTB</text>
<rect x="413.60" y="299.94" width="46.11" height="9.90" fill="#7f2f8c" />
<rect x="459.71" y="299.94" width="0.42" height="9.90" fill="#92cbe0" />
<rect x="460.13" y="299.94" width="23.87" height="9.90" fill="#e5961a" />
<line x1="456.60" y1="304.89" x2="464.60" y2="304.89" stroke="#111" stroke-width="1.1" />
<rect x="486.80" y="300.09" width="6.50" height="9.60" fill="#555" />
<line x1="410.20" y1="304.89" x2="413.30" y2="304.89" stroke="#222" stroke-width="1.0" />
<text x="0" y="0" transform="translate(407.50 307.39)" font-size="7.0" fill="#222" text-anchor="end" font-weight="normal" font-style="italic" stroke="#222" stroke-width="0.15">B2M</text>
<rect x="413.60" y="312.31" width="49.14" height="9.90" fill="#7f2f8c" />
<rect x="462.74" y="312.31" width="19.64" height="9.90" fill="#92cbe0" />
<rect x="482.38" y="312.31" width="1.62" height="9.90" fill="#e5961a" />
<line x1="453.00" y1="317.26" x2="473.80" y2="317.26" stroke="#111" stroke-width="1.1" />
<rect x="486.80" y="312.46" width="1.00" height="9.60" fill="#555" />
<line x1="410.20" y1="317.26" x2="413.30" y2="317.26" stroke="#222" stroke-width="1.0" />
<text x="0" y="0" transform="translate(407.50 319.76)" font-size="7.0" fill="#222" text-anchor="end" font-weight="normal" font-style="italic" stroke="#222" stroke-width="0.15">DNAH12</text>
<rect x="413.60" y="324.68" width="59.21" height="9.90" fill="#7f2f8c" />
<rect x="472.81" y="324.68" width="0.42" height="9.90" fill="#92cbe0" />
<rect x="473.23" y="324.68" width="10.77" height="9.90" fill="#e5961a" />
<line x1="468.20" y1="329.63" x2="478.90" y2="329.63" stroke="#111" stroke-width="1.1" />
<rect x="486.80" y="324.83" width="1.00" height="9.60" fill="#555" />
<line x1="410.20" y1="329.63" x2="413.30" y2="329.63" stroke="#222" stroke-width="1.0" />
<text x="0" y="0" transform="translate(407.50 332.13)" font-size="7.0" fill="#222" text-anchor="end" font-weight="normal" font-style="italic" stroke="#222" stroke-width="0.15">IKBKB</text>
<rect x="413.60" y="337.05" width="60.68" height="9.90" fill="#7f2f8c" />
<rect x="474.28" y="337.05" width="2.25" height="9.90" fill="#92cbe0" />
<rect x="476.54" y="337.05" width="7.46" height="9.90" fill="#e5961a" />
<line x1="473.10" y1="342.00" x2="479.10" y2="342.00" stroke="#111" stroke-width="1.1" />
<rect x="486.80" y="337.20" width="1.50" height="9.60" fill="#555" />
<line x1="410.20" y1="342.00" x2="413.30" y2="342.00" stroke="#222" stroke-width="1.0" />
<text x="0" y="0" transform="translate(407.50 344.50)" font-size="7.0" fill="#222" text-anchor="end" font-weight="normal" font-style="italic" stroke="#222" stroke-width="0.15">NFKBIA</text>
<rect x="413.60" y="349.42" width="63.71" height="9.90" fill="#7f2f8c" />
<rect x="477.31" y="349.42" width="6.69" height="9.90" fill="#92cbe0" />
<rect x="484.00" y="349.42" width="-0.00" height="9.90" fill="#e5961a" />
<rect x="486.80" y="349.57" width="0.30" height="9.60" fill="#555" />
<line x1="410.20" y1="354.37" x2="413.30" y2="354.37" stroke="#222" stroke-width="1.0" />
<text x="0" y="0" transform="translate(407.50 356.87)" font-size="7.0" fill="#222" text-anchor="end" font-weight="normal" font-style="italic" stroke="#222" stroke-width="0.15">NFKBIE</text>
<rect x="413.60" y="361.79" width="66.04" height="9.90" fill="#7f2f8c" />
<rect x="479.64" y="361.79" width="4.36" height="9.90" fill="#92cbe0" />
<rect x="484.00" y="361.79" width="0.00" height="9.90" fill="#e5961a" />
<line x1="480.00" y1="366.74" x2="481.50" y2="366.74" stroke="#111" stroke-width="1.1" />
<rect x="486.80" y="361.94" width="3.00" height="9.60" fill="#555" />
<line x1="410.20" y1="366.74" x2="413.30" y2="366.74" stroke="#222" stroke-width="1.0" />
<text x="0" y="0" transform="translate(407.50 369.24)" font-size="7.0" fill="#222" text-anchor="end" font-weight="normal" font-style="italic" stroke="#222" stroke-width="0.15">XPO1</text>
<rect x="413.60" y="374.16" width="67.09" height="9.90" fill="#7f2f8c" />
<rect x="480.69" y="374.16" width="3.31" height="9.90" fill="#92cbe0" />
<rect x="484.00" y="374.16" width="0.00" height="9.90" fill="#e5961a" />
<rect x="486.80" y="374.31" width="0.30" height="9.60" fill="#555" />
<line x1="410.20" y1="379.11" x2="413.30" y2="379.11" stroke="#222" stroke-width="1.0" />
<text x="0" y="0" transform="translate(407.50 381.61)" font-size="7.0" fill="#222" text-anchor="end" font-weight="normal" font-style="italic" stroke="#222" stroke-width="0.15">CSF2RB</text>
<rect x="413.60" y="386.53" width="67.58" height="9.90" fill="#7f2f8c" />
<rect x="481.18" y="386.53" width="1.06" height="9.90" fill="#92cbe0" />
<rect x="482.24" y="386.53" width="1.76" height="9.90" fill="#e5961a" />
<line x1="481.00" y1="391.48" x2="482.00" y2="391.48" stroke="#111" stroke-width="1.1" />
<rect x="486.80" y="386.68" width="2.50" height="9.60" fill="#555" />
<line x1="410.20" y1="391.48" x2="413.30" y2="391.48" stroke="#222" stroke-width="1.0" />
<text x="0" y="0" transform="translate(407.50 393.98)" font-size="7.0" fill="#222" text-anchor="end" font-weight="normal" font-style="italic" stroke="#222" stroke-width="0.15">ARID1A</text>
<line x1="413.40" y1="212.30" x2="413.40" y2="397.80" stroke="#111" stroke-width="1.0" />
<line x1="413.00" y1="212.30" x2="485.00" y2="212.30" stroke="#333" stroke-width="0.6" />
<line x1="484.50" y1="212.00" x2="484.50" y2="397.00" stroke="#555" stroke-width="1.0" />
<line x1="413.00" y1="397.40" x2="484.70" y2="397.40" stroke="#777" stroke-width="1.0" />
<line x1="413.50" y1="397.40" x2="413.50" y2="400.60" stroke="#333" stroke-width="0.9" />
<line x1="427.72" y1="397.40" x2="427.72" y2="400.60" stroke="#333" stroke-width="0.9" />
<line x1="441.94" y1="397.40" x2="441.94" y2="400.60" stroke="#333" stroke-width="0.9" />
<line x1="456.16" y1="397.40" x2="456.16" y2="400.60" stroke="#333" stroke-width="0.9" />
<line x1="470.38" y1="397.40" x2="470.38" y2="400.60" stroke="#333" stroke-width="0.9" />
<line x1="484.60" y1="397.40" x2="484.60" y2="400.60" stroke="#333" stroke-width="0.9" />
<text x="0" y="0" transform="translate(413.50 410.20)" font-size="6.8" fill="#222" text-anchor="middle" font-weight="normal" font-style="normal" stroke="#222" stroke-width="0.15">0</text>
<text x="0" y="0" transform="translate(427.72 410.20)" font-size="6.8" fill="#222" text-anchor="middle" font-weight="normal" font-style="normal" stroke="#222" stroke-width="0.15">0.2</text>
<text x="0" y="0" transform="translate(441.94 410.20)" font-size="6.8" fill="#222" text-anchor="middle" font-weight="normal" font-style="normal" stroke="#222" stroke-width="0.15">0.4</text>
<text x="0" y="0" transform="translate(456.16 410.20)" font-size="6.8" fill="#222" text-anchor="middle" font-weight="normal" font-style="normal" stroke="#222" stroke-width="0.15">0.6</text>
<text x="0" y="0" transform="translate(470.38 410.20)" font-size="6.8" fill="#222" text-anchor="middle" font-weight="normal" font-style="normal" stroke="#222" stroke-width="0.15">0.8</text>
<text x="0" y="0" transform="translate(486.60 410.20)" font-size="6.8" fill="#222" text-anchor="middle" font-weight="normal" font-style="normal" stroke="#222" stroke-width="0.15">10</text>
<text x="0" y="0" transform="translate(509.40 410.20)" font-size="6.8" fill="#222" text-anchor="middle" font-weight="normal" font-style="normal" stroke="#222" stroke-width="0.15">40</text>
<line x1="486.50" y1="212.00" x2="486.50" y2="398.00" stroke="#222" stroke-width="1.0" />
<line x1="485.80" y1="212.30" x2="512.20" y2="212.30" stroke="#333" stroke-width="0.7" />
<line x1="485.70" y1="397.60" x2="512.90" y2="397.60" stroke="#555" stroke-width="1.0" />
<line x1="486.10" y1="397.60" x2="486.10" y2="400.80" stroke="#333" stroke-width="0.9" />
<line x1="497.60" y1="397.60" x2="497.60" y2="400.80" stroke="#333" stroke-width="0.9" />
<line x1="509.30" y1="397.60" x2="509.30" y2="400.80" stroke="#333" stroke-width="0.9" />
<text x="0" y="0" transform="translate(443.50 422.00) scale(0.7109 1)" font-size="8.6" fill="#1a1a1a" text-anchor="middle" font-weight="normal" font-style="normal" stroke="#1a1a1a" stroke-width="0.25">Signature proportion</text>
<text x="0" y="0" transform="translate(496.20 422.00) scale(0.6839 1)" font-size="8.6" fill="#1a1a1a" text-anchor="middle" font-weight="normal" font-style="normal" stroke="#1a1a1a" stroke-width="0.25">Mutations</text>
<rect x="415.80" y="432.40" width="5.40" height="2.80" fill="#7f2f8c" />
<text x="0" y="0" transform="translate(424.40 435.80) scale(0.8513 1)" font-size="6.2" fill="#222" text-anchor="start" font-weight="normal" font-style="normal" stroke="#222" stroke-width="0.12">Aging</text>
<rect x="444.30" y="432.40" width="5.40" height="2.80" fill="#92cbe0" />
<text x="0" y="0" transform="translate(452.90 435.80) scale(0.9055 1)" font-size="6.2" fill="#222" text-anchor="start" font-weight="normal" font-style="normal" stroke="#222" stroke-width="0.12">APOBEC</text>
<rect x="482.70" y="432.40" width="5.40" height="2.80" fill="#e5961a" />
<text x="0" y="0" transform="translate(491.20 435.80) scale(0.8611 1)" font-size="6.2" fill="#222" text-anchor="start" font-weight="normal" font-style="normal" stroke="#222" stroke-width="0.12">AID</text>
<rect x="0.60" y="0.60" width="518.60" height="442.60" fill="none" stroke="#000" stroke-width="1.3"/>
</svg>
</body></html>
